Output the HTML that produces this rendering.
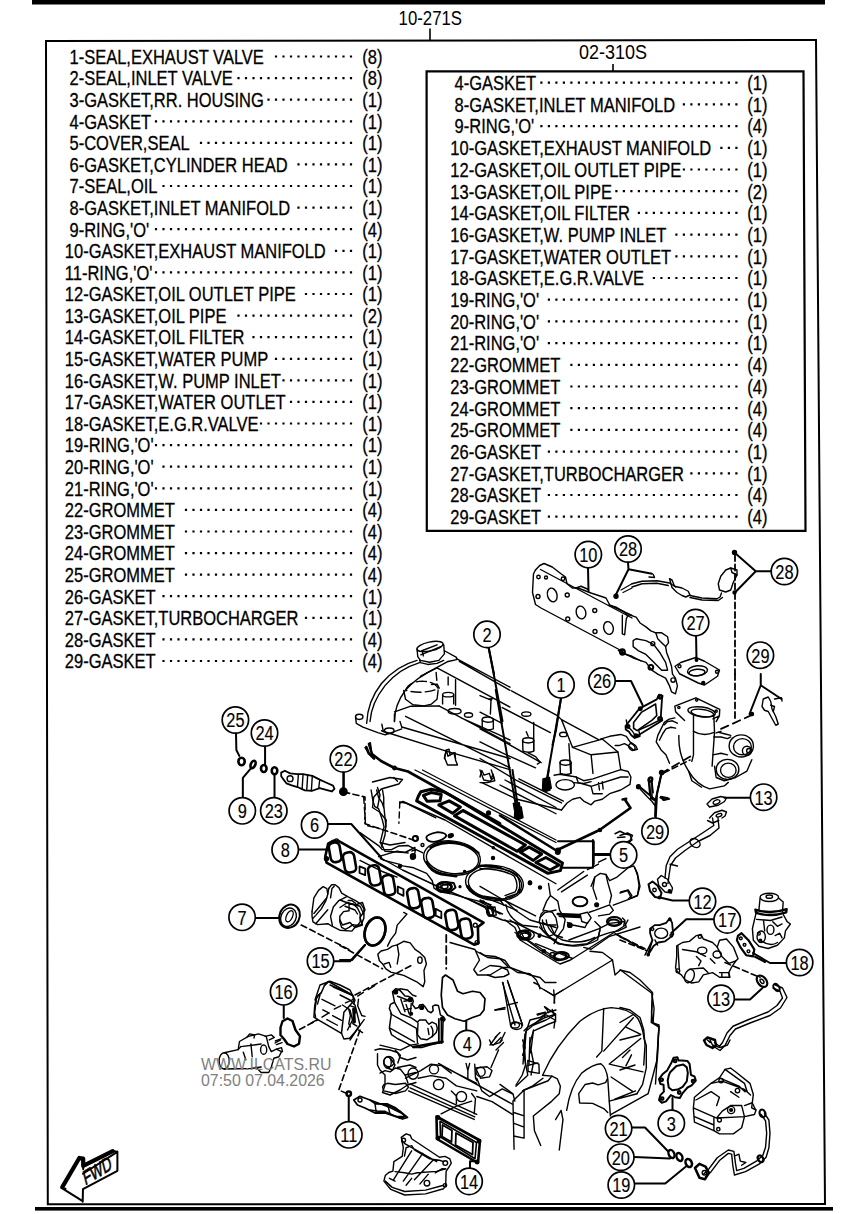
<!DOCTYPE html>
<html><head><meta charset="utf-8"><style>
html,body{margin:0;padding:0;background:#fff;width:864px;height:1214px;overflow:hidden}
svg{display:block}
text{font-family:"Liberation Sans",sans-serif;fill:#000}
.lt{stroke:#000;stroke-width:0.3px}
.cn{stroke:#000;stroke-width:0.15px}
.tile *{vector-effect:non-scaling-stroke}
</style></head><body>
<svg width="864" height="1214" viewBox="0 0 864 1214">
<rect x="0" y="0" width="864" height="1214" fill="#fff"/>
<rect x="32" y="0" width="793" height="4.5" fill="#000"/>
<rect x="35" y="1207" width="798" height="3.6" fill="#000"/>
<path d="M46 41 L816 40 L825 1204 L47.8 1204.3 Z" fill="none" stroke="#000" stroke-width="2"/>
<path d="M426.6 71.3 L803.5 71.3 L805.5 530.8 L426.8 530.8 Z" fill="none" stroke="#000" stroke-width="2.2"/>
<path d="M430 28.5V40.5M613 64V71" stroke="#000" stroke-width="1.6"/>
<text transform="translate(398.6,25) scale(0.84,1)" font-size="20">10-271S</text>
<text transform="translate(579,59) scale(0.9,1)" font-size="20">02-310S</text>
<text transform="translate(69.50,63.80) scale(0.825,1)" font-size="20.0" class="lt">1-SEAL,EXHAUST VALVE</text>
<path d="M349.9 55.4h2.2v2.2h-2.2zM342.4 55.4h2.2v2.2h-2.2zM334.9 55.4h2.2v2.2h-2.2zM327.4 55.4h2.2v2.2h-2.2zM319.9 55.4h2.2v2.2h-2.2zM312.4 55.4h2.2v2.2h-2.2zM304.9 55.4h2.2v2.2h-2.2zM297.4 55.4h2.2v2.2h-2.2zM289.9 55.4h2.2v2.2h-2.2zM282.4 55.4h2.2v2.2h-2.2zM274.9 55.4h2.2v2.2h-2.2z" fill="#000"/>
<text transform="translate(362.30,63.80) scale(0.825,1)" font-size="20.0" class="lt">(8)</text>
<text transform="translate(69.50,85.39) scale(0.825,1)" font-size="20.0" class="lt">2-SEAL,INLET VALVE</text>
<path d="M349.9 77.0h2.2v2.2h-2.2zM342.4 77.0h2.2v2.2h-2.2zM334.9 77.0h2.2v2.2h-2.2zM327.4 77.0h2.2v2.2h-2.2zM319.9 77.0h2.2v2.2h-2.2zM312.4 77.0h2.2v2.2h-2.2zM304.9 77.0h2.2v2.2h-2.2zM297.4 77.0h2.2v2.2h-2.2zM289.9 77.0h2.2v2.2h-2.2zM282.4 77.0h2.2v2.2h-2.2zM274.9 77.0h2.2v2.2h-2.2zM267.4 77.0h2.2v2.2h-2.2zM259.9 77.0h2.2v2.2h-2.2zM252.4 77.0h2.2v2.2h-2.2zM244.9 77.0h2.2v2.2h-2.2zM237.4 77.0h2.2v2.2h-2.2z" fill="#000"/>
<text transform="translate(362.30,85.39) scale(0.825,1)" font-size="20.0" class="lt">(8)</text>
<text transform="translate(69.50,106.98) scale(0.825,1)" font-size="20.0" class="lt">3-GASKET,RR. HOUSING</text>
<path d="M349.9 98.6h2.2v2.2h-2.2zM342.4 98.6h2.2v2.2h-2.2zM334.9 98.6h2.2v2.2h-2.2zM327.4 98.6h2.2v2.2h-2.2zM319.9 98.6h2.2v2.2h-2.2zM312.4 98.6h2.2v2.2h-2.2zM304.9 98.6h2.2v2.2h-2.2zM297.4 98.6h2.2v2.2h-2.2zM289.9 98.6h2.2v2.2h-2.2zM282.4 98.6h2.2v2.2h-2.2zM274.9 98.6h2.2v2.2h-2.2zM267.4 98.6h2.2v2.2h-2.2z" fill="#000"/>
<text transform="translate(362.30,106.98) scale(0.825,1)" font-size="20.0" class="lt">(1)</text>
<text transform="translate(69.50,128.57) scale(0.825,1)" font-size="20.0" class="lt">4-GASKET</text>
<path d="M349.9 120.2h2.2v2.2h-2.2zM342.4 120.2h2.2v2.2h-2.2zM334.9 120.2h2.2v2.2h-2.2zM327.4 120.2h2.2v2.2h-2.2zM319.9 120.2h2.2v2.2h-2.2zM312.4 120.2h2.2v2.2h-2.2zM304.9 120.2h2.2v2.2h-2.2zM297.4 120.2h2.2v2.2h-2.2zM289.9 120.2h2.2v2.2h-2.2zM282.4 120.2h2.2v2.2h-2.2zM274.9 120.2h2.2v2.2h-2.2zM267.4 120.2h2.2v2.2h-2.2zM259.9 120.2h2.2v2.2h-2.2zM252.4 120.2h2.2v2.2h-2.2zM244.9 120.2h2.2v2.2h-2.2zM237.4 120.2h2.2v2.2h-2.2zM229.9 120.2h2.2v2.2h-2.2zM222.4 120.2h2.2v2.2h-2.2zM214.9 120.2h2.2v2.2h-2.2zM207.4 120.2h2.2v2.2h-2.2zM199.9 120.2h2.2v2.2h-2.2zM192.4 120.2h2.2v2.2h-2.2zM184.9 120.2h2.2v2.2h-2.2zM177.4 120.2h2.2v2.2h-2.2zM169.9 120.2h2.2v2.2h-2.2zM162.4 120.2h2.2v2.2h-2.2zM154.9 120.2h2.2v2.2h-2.2z" fill="#000"/>
<text transform="translate(362.30,128.57) scale(0.825,1)" font-size="20.0" class="lt">(1)</text>
<text transform="translate(69.50,150.16) scale(0.825,1)" font-size="20.0" class="lt">5-COVER,SEAL</text>
<path d="M349.9 141.8h2.2v2.2h-2.2zM342.4 141.8h2.2v2.2h-2.2zM334.9 141.8h2.2v2.2h-2.2zM327.4 141.8h2.2v2.2h-2.2zM319.9 141.8h2.2v2.2h-2.2zM312.4 141.8h2.2v2.2h-2.2zM304.9 141.8h2.2v2.2h-2.2zM297.4 141.8h2.2v2.2h-2.2zM289.9 141.8h2.2v2.2h-2.2zM282.4 141.8h2.2v2.2h-2.2zM274.9 141.8h2.2v2.2h-2.2zM267.4 141.8h2.2v2.2h-2.2zM259.9 141.8h2.2v2.2h-2.2zM252.4 141.8h2.2v2.2h-2.2zM244.9 141.8h2.2v2.2h-2.2zM237.4 141.8h2.2v2.2h-2.2zM229.9 141.8h2.2v2.2h-2.2zM222.4 141.8h2.2v2.2h-2.2zM214.9 141.8h2.2v2.2h-2.2zM207.4 141.8h2.2v2.2h-2.2zM199.9 141.8h2.2v2.2h-2.2z" fill="#000"/>
<text transform="translate(362.30,150.16) scale(0.825,1)" font-size="20.0" class="lt">(1)</text>
<text transform="translate(69.50,171.75) scale(0.825,1)" font-size="20.0" class="lt">6-GASKET,CYLINDER HEAD</text>
<path d="M349.9 163.3h2.2v2.2h-2.2zM342.4 163.3h2.2v2.2h-2.2zM334.9 163.3h2.2v2.2h-2.2zM327.4 163.3h2.2v2.2h-2.2zM319.9 163.3h2.2v2.2h-2.2zM312.4 163.3h2.2v2.2h-2.2zM304.9 163.3h2.2v2.2h-2.2zM297.4 163.3h2.2v2.2h-2.2z" fill="#000"/>
<text transform="translate(362.30,171.75) scale(0.825,1)" font-size="20.0" class="lt">(1)</text>
<text transform="translate(69.50,193.34) scale(0.825,1)" font-size="20.0" class="lt">7-SEAL,OIL</text>
<path d="M349.9 184.9h2.2v2.2h-2.2zM342.4 184.9h2.2v2.2h-2.2zM334.9 184.9h2.2v2.2h-2.2zM327.4 184.9h2.2v2.2h-2.2zM319.9 184.9h2.2v2.2h-2.2zM312.4 184.9h2.2v2.2h-2.2zM304.9 184.9h2.2v2.2h-2.2zM297.4 184.9h2.2v2.2h-2.2zM289.9 184.9h2.2v2.2h-2.2zM282.4 184.9h2.2v2.2h-2.2zM274.9 184.9h2.2v2.2h-2.2zM267.4 184.9h2.2v2.2h-2.2zM259.9 184.9h2.2v2.2h-2.2zM252.4 184.9h2.2v2.2h-2.2zM244.9 184.9h2.2v2.2h-2.2zM237.4 184.9h2.2v2.2h-2.2zM229.9 184.9h2.2v2.2h-2.2zM222.4 184.9h2.2v2.2h-2.2zM214.9 184.9h2.2v2.2h-2.2zM207.4 184.9h2.2v2.2h-2.2zM199.9 184.9h2.2v2.2h-2.2zM192.4 184.9h2.2v2.2h-2.2zM184.9 184.9h2.2v2.2h-2.2zM177.4 184.9h2.2v2.2h-2.2zM169.9 184.9h2.2v2.2h-2.2zM162.4 184.9h2.2v2.2h-2.2z" fill="#000"/>
<text transform="translate(362.30,193.34) scale(0.825,1)" font-size="20.0" class="lt">(1)</text>
<text transform="translate(69.50,214.93) scale(0.825,1)" font-size="20.0" class="lt">8-GASKET,INLET MANIFOLD</text>
<path d="M349.9 206.5h2.2v2.2h-2.2zM342.4 206.5h2.2v2.2h-2.2zM334.9 206.5h2.2v2.2h-2.2zM327.4 206.5h2.2v2.2h-2.2zM319.9 206.5h2.2v2.2h-2.2zM312.4 206.5h2.2v2.2h-2.2zM304.9 206.5h2.2v2.2h-2.2zM297.4 206.5h2.2v2.2h-2.2z" fill="#000"/>
<text transform="translate(362.30,214.93) scale(0.825,1)" font-size="20.0" class="lt">(1)</text>
<text transform="translate(69.50,236.52) scale(0.825,1)" font-size="20.0" class="lt">9-RING,'O'</text>
<path d="M349.9 228.1h2.2v2.2h-2.2zM342.4 228.1h2.2v2.2h-2.2zM334.9 228.1h2.2v2.2h-2.2zM327.4 228.1h2.2v2.2h-2.2zM319.9 228.1h2.2v2.2h-2.2zM312.4 228.1h2.2v2.2h-2.2zM304.9 228.1h2.2v2.2h-2.2zM297.4 228.1h2.2v2.2h-2.2zM289.9 228.1h2.2v2.2h-2.2zM282.4 228.1h2.2v2.2h-2.2zM274.9 228.1h2.2v2.2h-2.2zM267.4 228.1h2.2v2.2h-2.2zM259.9 228.1h2.2v2.2h-2.2zM252.4 228.1h2.2v2.2h-2.2zM244.9 228.1h2.2v2.2h-2.2zM237.4 228.1h2.2v2.2h-2.2zM229.9 228.1h2.2v2.2h-2.2zM222.4 228.1h2.2v2.2h-2.2zM214.9 228.1h2.2v2.2h-2.2zM207.4 228.1h2.2v2.2h-2.2zM199.9 228.1h2.2v2.2h-2.2zM192.4 228.1h2.2v2.2h-2.2zM184.9 228.1h2.2v2.2h-2.2zM177.4 228.1h2.2v2.2h-2.2zM169.9 228.1h2.2v2.2h-2.2zM162.4 228.1h2.2v2.2h-2.2zM154.9 228.1h2.2v2.2h-2.2z" fill="#000"/>
<text transform="translate(362.30,236.52) scale(0.825,1)" font-size="20.0" class="lt">(4)</text>
<text transform="translate(64.80,258.11) scale(0.825,1)" font-size="20.0" class="lt">10-GASKET,EXHAUST MANIFOLD</text>
<path d="M349.9 249.7h2.2v2.2h-2.2zM342.4 249.7h2.2v2.2h-2.2zM334.9 249.7h2.2v2.2h-2.2z" fill="#000"/>
<text transform="translate(362.30,258.11) scale(0.825,1)" font-size="20.0" class="lt">(1)</text>
<text transform="translate(64.80,279.70) scale(0.825,1)" font-size="20.0" class="lt">11-RING,'O'</text>
<path d="M349.9 271.3h2.2v2.2h-2.2zM342.4 271.3h2.2v2.2h-2.2zM334.9 271.3h2.2v2.2h-2.2zM327.4 271.3h2.2v2.2h-2.2zM319.9 271.3h2.2v2.2h-2.2zM312.4 271.3h2.2v2.2h-2.2zM304.9 271.3h2.2v2.2h-2.2zM297.4 271.3h2.2v2.2h-2.2zM289.9 271.3h2.2v2.2h-2.2zM282.4 271.3h2.2v2.2h-2.2zM274.9 271.3h2.2v2.2h-2.2zM267.4 271.3h2.2v2.2h-2.2zM259.9 271.3h2.2v2.2h-2.2zM252.4 271.3h2.2v2.2h-2.2zM244.9 271.3h2.2v2.2h-2.2zM237.4 271.3h2.2v2.2h-2.2zM229.9 271.3h2.2v2.2h-2.2zM222.4 271.3h2.2v2.2h-2.2zM214.9 271.3h2.2v2.2h-2.2zM207.4 271.3h2.2v2.2h-2.2zM199.9 271.3h2.2v2.2h-2.2zM192.4 271.3h2.2v2.2h-2.2zM184.9 271.3h2.2v2.2h-2.2zM177.4 271.3h2.2v2.2h-2.2zM169.9 271.3h2.2v2.2h-2.2zM162.4 271.3h2.2v2.2h-2.2zM154.9 271.3h2.2v2.2h-2.2z" fill="#000"/>
<text transform="translate(362.30,279.70) scale(0.825,1)" font-size="20.0" class="lt">(1)</text>
<text transform="translate(64.80,301.29) scale(0.825,1)" font-size="20.0" class="lt">12-GASKET,OIL OUTLET PIPE</text>
<path d="M349.9 292.9h2.2v2.2h-2.2zM342.4 292.9h2.2v2.2h-2.2zM334.9 292.9h2.2v2.2h-2.2zM327.4 292.9h2.2v2.2h-2.2zM319.9 292.9h2.2v2.2h-2.2zM312.4 292.9h2.2v2.2h-2.2zM304.9 292.9h2.2v2.2h-2.2z" fill="#000"/>
<text transform="translate(362.30,301.29) scale(0.825,1)" font-size="20.0" class="lt">(1)</text>
<text transform="translate(64.80,322.88) scale(0.825,1)" font-size="20.0" class="lt">13-GASKET,OIL PIPE</text>
<path d="M349.9 314.5h2.2v2.2h-2.2zM342.4 314.5h2.2v2.2h-2.2zM334.9 314.5h2.2v2.2h-2.2zM327.4 314.5h2.2v2.2h-2.2zM319.9 314.5h2.2v2.2h-2.2zM312.4 314.5h2.2v2.2h-2.2zM304.9 314.5h2.2v2.2h-2.2zM297.4 314.5h2.2v2.2h-2.2zM289.9 314.5h2.2v2.2h-2.2zM282.4 314.5h2.2v2.2h-2.2zM274.9 314.5h2.2v2.2h-2.2zM267.4 314.5h2.2v2.2h-2.2zM259.9 314.5h2.2v2.2h-2.2zM252.4 314.5h2.2v2.2h-2.2zM244.9 314.5h2.2v2.2h-2.2zM237.4 314.5h2.2v2.2h-2.2z" fill="#000"/>
<text transform="translate(362.30,322.88) scale(0.825,1)" font-size="20.0" class="lt">(2)</text>
<text transform="translate(64.80,344.47) scale(0.825,1)" font-size="20.0" class="lt">14-GASKET,OIL FILTER</text>
<path d="M349.9 336.1h2.2v2.2h-2.2zM342.4 336.1h2.2v2.2h-2.2zM334.9 336.1h2.2v2.2h-2.2zM327.4 336.1h2.2v2.2h-2.2zM319.9 336.1h2.2v2.2h-2.2zM312.4 336.1h2.2v2.2h-2.2zM304.9 336.1h2.2v2.2h-2.2zM297.4 336.1h2.2v2.2h-2.2zM289.9 336.1h2.2v2.2h-2.2zM282.4 336.1h2.2v2.2h-2.2zM274.9 336.1h2.2v2.2h-2.2zM267.4 336.1h2.2v2.2h-2.2zM259.9 336.1h2.2v2.2h-2.2zM252.4 336.1h2.2v2.2h-2.2z" fill="#000"/>
<text transform="translate(362.30,344.47) scale(0.825,1)" font-size="20.0" class="lt">(1)</text>
<text transform="translate(64.80,366.06) scale(0.825,1)" font-size="20.0" class="lt">15-GASKET,WATER PUMP</text>
<path d="M349.9 357.7h2.2v2.2h-2.2zM342.4 357.7h2.2v2.2h-2.2zM334.9 357.7h2.2v2.2h-2.2zM327.4 357.7h2.2v2.2h-2.2zM319.9 357.7h2.2v2.2h-2.2zM312.4 357.7h2.2v2.2h-2.2zM304.9 357.7h2.2v2.2h-2.2zM297.4 357.7h2.2v2.2h-2.2zM289.9 357.7h2.2v2.2h-2.2zM282.4 357.7h2.2v2.2h-2.2zM274.9 357.7h2.2v2.2h-2.2z" fill="#000"/>
<text transform="translate(362.30,366.06) scale(0.825,1)" font-size="20.0" class="lt">(1)</text>
<text transform="translate(64.80,387.65) scale(0.825,1)" font-size="20.0" class="lt">16-GASKET,W. PUMP INLET</text>
<path d="M349.9 379.2h2.2v2.2h-2.2zM342.4 379.2h2.2v2.2h-2.2zM334.9 379.2h2.2v2.2h-2.2zM327.4 379.2h2.2v2.2h-2.2zM319.9 379.2h2.2v2.2h-2.2zM312.4 379.2h2.2v2.2h-2.2zM304.9 379.2h2.2v2.2h-2.2zM297.4 379.2h2.2v2.2h-2.2zM289.9 379.2h2.2v2.2h-2.2zM282.4 379.2h2.2v2.2h-2.2z" fill="#000"/>
<text transform="translate(362.30,387.65) scale(0.825,1)" font-size="20.0" class="lt">(1)</text>
<text transform="translate(64.80,409.24) scale(0.825,1)" font-size="20.0" class="lt">17-GASKET,WATER OUTLET</text>
<path d="M349.9 400.8h2.2v2.2h-2.2zM342.4 400.8h2.2v2.2h-2.2zM334.9 400.8h2.2v2.2h-2.2zM327.4 400.8h2.2v2.2h-2.2zM319.9 400.8h2.2v2.2h-2.2zM312.4 400.8h2.2v2.2h-2.2zM304.9 400.8h2.2v2.2h-2.2zM297.4 400.8h2.2v2.2h-2.2zM289.9 400.8h2.2v2.2h-2.2z" fill="#000"/>
<text transform="translate(362.30,409.24) scale(0.825,1)" font-size="20.0" class="lt">(1)</text>
<text transform="translate(64.80,430.83) scale(0.825,1)" font-size="20.0" class="lt">18-GASKET,E.G.R.VALVE</text>
<path d="M349.9 422.4h2.2v2.2h-2.2zM342.4 422.4h2.2v2.2h-2.2zM334.9 422.4h2.2v2.2h-2.2zM327.4 422.4h2.2v2.2h-2.2zM319.9 422.4h2.2v2.2h-2.2zM312.4 422.4h2.2v2.2h-2.2zM304.9 422.4h2.2v2.2h-2.2zM297.4 422.4h2.2v2.2h-2.2zM289.9 422.4h2.2v2.2h-2.2zM282.4 422.4h2.2v2.2h-2.2zM274.9 422.4h2.2v2.2h-2.2zM267.4 422.4h2.2v2.2h-2.2zM259.9 422.4h2.2v2.2h-2.2z" fill="#000"/>
<text transform="translate(362.30,430.83) scale(0.825,1)" font-size="20.0" class="lt">(1)</text>
<text transform="translate(64.80,452.42) scale(0.825,1)" font-size="20.0" class="lt">19-RING,'O'</text>
<path d="M349.9 444.0h2.2v2.2h-2.2zM342.4 444.0h2.2v2.2h-2.2zM334.9 444.0h2.2v2.2h-2.2zM327.4 444.0h2.2v2.2h-2.2zM319.9 444.0h2.2v2.2h-2.2zM312.4 444.0h2.2v2.2h-2.2zM304.9 444.0h2.2v2.2h-2.2zM297.4 444.0h2.2v2.2h-2.2zM289.9 444.0h2.2v2.2h-2.2zM282.4 444.0h2.2v2.2h-2.2zM274.9 444.0h2.2v2.2h-2.2zM267.4 444.0h2.2v2.2h-2.2zM259.9 444.0h2.2v2.2h-2.2zM252.4 444.0h2.2v2.2h-2.2zM244.9 444.0h2.2v2.2h-2.2zM237.4 444.0h2.2v2.2h-2.2zM229.9 444.0h2.2v2.2h-2.2zM222.4 444.0h2.2v2.2h-2.2zM214.9 444.0h2.2v2.2h-2.2zM207.4 444.0h2.2v2.2h-2.2zM199.9 444.0h2.2v2.2h-2.2zM192.4 444.0h2.2v2.2h-2.2zM184.9 444.0h2.2v2.2h-2.2zM177.4 444.0h2.2v2.2h-2.2zM169.9 444.0h2.2v2.2h-2.2zM162.4 444.0h2.2v2.2h-2.2zM154.9 444.0h2.2v2.2h-2.2z" fill="#000"/>
<text transform="translate(362.30,452.42) scale(0.825,1)" font-size="20.0" class="lt">(1)</text>
<text transform="translate(64.80,474.01) scale(0.825,1)" font-size="20.0" class="lt">20-RING,'O'</text>
<path d="M349.9 465.6h2.2v2.2h-2.2zM342.4 465.6h2.2v2.2h-2.2zM334.9 465.6h2.2v2.2h-2.2zM327.4 465.6h2.2v2.2h-2.2zM319.9 465.6h2.2v2.2h-2.2zM312.4 465.6h2.2v2.2h-2.2zM304.9 465.6h2.2v2.2h-2.2zM297.4 465.6h2.2v2.2h-2.2zM289.9 465.6h2.2v2.2h-2.2zM282.4 465.6h2.2v2.2h-2.2zM274.9 465.6h2.2v2.2h-2.2zM267.4 465.6h2.2v2.2h-2.2zM259.9 465.6h2.2v2.2h-2.2zM252.4 465.6h2.2v2.2h-2.2zM244.9 465.6h2.2v2.2h-2.2zM237.4 465.6h2.2v2.2h-2.2zM229.9 465.6h2.2v2.2h-2.2zM222.4 465.6h2.2v2.2h-2.2zM214.9 465.6h2.2v2.2h-2.2zM207.4 465.6h2.2v2.2h-2.2zM199.9 465.6h2.2v2.2h-2.2zM192.4 465.6h2.2v2.2h-2.2zM184.9 465.6h2.2v2.2h-2.2zM177.4 465.6h2.2v2.2h-2.2zM169.9 465.6h2.2v2.2h-2.2zM162.4 465.6h2.2v2.2h-2.2z" fill="#000"/>
<text transform="translate(362.30,474.01) scale(0.825,1)" font-size="20.0" class="lt">(1)</text>
<text transform="translate(64.80,495.60) scale(0.825,1)" font-size="20.0" class="lt">21-RING,'O'</text>
<path d="M349.9 487.2h2.2v2.2h-2.2zM342.4 487.2h2.2v2.2h-2.2zM334.9 487.2h2.2v2.2h-2.2zM327.4 487.2h2.2v2.2h-2.2zM319.9 487.2h2.2v2.2h-2.2zM312.4 487.2h2.2v2.2h-2.2zM304.9 487.2h2.2v2.2h-2.2zM297.4 487.2h2.2v2.2h-2.2zM289.9 487.2h2.2v2.2h-2.2zM282.4 487.2h2.2v2.2h-2.2zM274.9 487.2h2.2v2.2h-2.2zM267.4 487.2h2.2v2.2h-2.2zM259.9 487.2h2.2v2.2h-2.2zM252.4 487.2h2.2v2.2h-2.2zM244.9 487.2h2.2v2.2h-2.2zM237.4 487.2h2.2v2.2h-2.2zM229.9 487.2h2.2v2.2h-2.2zM222.4 487.2h2.2v2.2h-2.2zM214.9 487.2h2.2v2.2h-2.2zM207.4 487.2h2.2v2.2h-2.2zM199.9 487.2h2.2v2.2h-2.2zM192.4 487.2h2.2v2.2h-2.2zM184.9 487.2h2.2v2.2h-2.2zM177.4 487.2h2.2v2.2h-2.2zM169.9 487.2h2.2v2.2h-2.2zM162.4 487.2h2.2v2.2h-2.2zM154.9 487.2h2.2v2.2h-2.2z" fill="#000"/>
<text transform="translate(362.30,495.60) scale(0.825,1)" font-size="20.0" class="lt">(1)</text>
<text transform="translate(64.80,517.19) scale(0.825,1)" font-size="20.0" class="lt">22-GROMMET</text>
<path d="M349.9 508.8h2.2v2.2h-2.2zM342.4 508.8h2.2v2.2h-2.2zM334.9 508.8h2.2v2.2h-2.2zM327.4 508.8h2.2v2.2h-2.2zM319.9 508.8h2.2v2.2h-2.2zM312.4 508.8h2.2v2.2h-2.2zM304.9 508.8h2.2v2.2h-2.2zM297.4 508.8h2.2v2.2h-2.2zM289.9 508.8h2.2v2.2h-2.2zM282.4 508.8h2.2v2.2h-2.2zM274.9 508.8h2.2v2.2h-2.2zM267.4 508.8h2.2v2.2h-2.2zM259.9 508.8h2.2v2.2h-2.2zM252.4 508.8h2.2v2.2h-2.2zM244.9 508.8h2.2v2.2h-2.2zM237.4 508.8h2.2v2.2h-2.2zM229.9 508.8h2.2v2.2h-2.2zM222.4 508.8h2.2v2.2h-2.2zM214.9 508.8h2.2v2.2h-2.2zM207.4 508.8h2.2v2.2h-2.2zM199.9 508.8h2.2v2.2h-2.2zM192.4 508.8h2.2v2.2h-2.2zM184.9 508.8h2.2v2.2h-2.2z" fill="#000"/>
<text transform="translate(362.30,517.19) scale(0.825,1)" font-size="20.0" class="lt">(4)</text>
<text transform="translate(64.80,538.78) scale(0.825,1)" font-size="20.0" class="lt">23-GROMMET</text>
<path d="M349.9 530.4h2.2v2.2h-2.2zM342.4 530.4h2.2v2.2h-2.2zM334.9 530.4h2.2v2.2h-2.2zM327.4 530.4h2.2v2.2h-2.2zM319.9 530.4h2.2v2.2h-2.2zM312.4 530.4h2.2v2.2h-2.2zM304.9 530.4h2.2v2.2h-2.2zM297.4 530.4h2.2v2.2h-2.2zM289.9 530.4h2.2v2.2h-2.2zM282.4 530.4h2.2v2.2h-2.2zM274.9 530.4h2.2v2.2h-2.2zM267.4 530.4h2.2v2.2h-2.2zM259.9 530.4h2.2v2.2h-2.2zM252.4 530.4h2.2v2.2h-2.2zM244.9 530.4h2.2v2.2h-2.2zM237.4 530.4h2.2v2.2h-2.2zM229.9 530.4h2.2v2.2h-2.2zM222.4 530.4h2.2v2.2h-2.2zM214.9 530.4h2.2v2.2h-2.2zM207.4 530.4h2.2v2.2h-2.2zM199.9 530.4h2.2v2.2h-2.2zM192.4 530.4h2.2v2.2h-2.2zM184.9 530.4h2.2v2.2h-2.2z" fill="#000"/>
<text transform="translate(362.30,538.78) scale(0.825,1)" font-size="20.0" class="lt">(4)</text>
<text transform="translate(64.80,560.37) scale(0.825,1)" font-size="20.0" class="lt">24-GROMMET</text>
<path d="M349.9 552.0h2.2v2.2h-2.2zM342.4 552.0h2.2v2.2h-2.2zM334.9 552.0h2.2v2.2h-2.2zM327.4 552.0h2.2v2.2h-2.2zM319.9 552.0h2.2v2.2h-2.2zM312.4 552.0h2.2v2.2h-2.2zM304.9 552.0h2.2v2.2h-2.2zM297.4 552.0h2.2v2.2h-2.2zM289.9 552.0h2.2v2.2h-2.2zM282.4 552.0h2.2v2.2h-2.2zM274.9 552.0h2.2v2.2h-2.2zM267.4 552.0h2.2v2.2h-2.2zM259.9 552.0h2.2v2.2h-2.2zM252.4 552.0h2.2v2.2h-2.2zM244.9 552.0h2.2v2.2h-2.2zM237.4 552.0h2.2v2.2h-2.2zM229.9 552.0h2.2v2.2h-2.2zM222.4 552.0h2.2v2.2h-2.2zM214.9 552.0h2.2v2.2h-2.2zM207.4 552.0h2.2v2.2h-2.2zM199.9 552.0h2.2v2.2h-2.2zM192.4 552.0h2.2v2.2h-2.2zM184.9 552.0h2.2v2.2h-2.2z" fill="#000"/>
<text transform="translate(362.30,560.37) scale(0.825,1)" font-size="20.0" class="lt">(4)</text>
<text transform="translate(64.80,581.96) scale(0.825,1)" font-size="20.0" class="lt">25-GROMMET</text>
<path d="M349.9 573.6h2.2v2.2h-2.2zM342.4 573.6h2.2v2.2h-2.2zM334.9 573.6h2.2v2.2h-2.2zM327.4 573.6h2.2v2.2h-2.2zM319.9 573.6h2.2v2.2h-2.2zM312.4 573.6h2.2v2.2h-2.2zM304.9 573.6h2.2v2.2h-2.2zM297.4 573.6h2.2v2.2h-2.2zM289.9 573.6h2.2v2.2h-2.2zM282.4 573.6h2.2v2.2h-2.2zM274.9 573.6h2.2v2.2h-2.2zM267.4 573.6h2.2v2.2h-2.2zM259.9 573.6h2.2v2.2h-2.2zM252.4 573.6h2.2v2.2h-2.2zM244.9 573.6h2.2v2.2h-2.2zM237.4 573.6h2.2v2.2h-2.2zM229.9 573.6h2.2v2.2h-2.2zM222.4 573.6h2.2v2.2h-2.2zM214.9 573.6h2.2v2.2h-2.2zM207.4 573.6h2.2v2.2h-2.2zM199.9 573.6h2.2v2.2h-2.2zM192.4 573.6h2.2v2.2h-2.2zM184.9 573.6h2.2v2.2h-2.2z" fill="#000"/>
<text transform="translate(362.30,581.96) scale(0.825,1)" font-size="20.0" class="lt">(4)</text>
<text transform="translate(64.80,603.55) scale(0.825,1)" font-size="20.0" class="lt">26-GASKET</text>
<path d="M349.9 595.1h2.2v2.2h-2.2zM342.4 595.1h2.2v2.2h-2.2zM334.9 595.1h2.2v2.2h-2.2zM327.4 595.1h2.2v2.2h-2.2zM319.9 595.1h2.2v2.2h-2.2zM312.4 595.1h2.2v2.2h-2.2zM304.9 595.1h2.2v2.2h-2.2zM297.4 595.1h2.2v2.2h-2.2zM289.9 595.1h2.2v2.2h-2.2zM282.4 595.1h2.2v2.2h-2.2zM274.9 595.1h2.2v2.2h-2.2zM267.4 595.1h2.2v2.2h-2.2zM259.9 595.1h2.2v2.2h-2.2zM252.4 595.1h2.2v2.2h-2.2zM244.9 595.1h2.2v2.2h-2.2zM237.4 595.1h2.2v2.2h-2.2zM229.9 595.1h2.2v2.2h-2.2zM222.4 595.1h2.2v2.2h-2.2zM214.9 595.1h2.2v2.2h-2.2zM207.4 595.1h2.2v2.2h-2.2zM199.9 595.1h2.2v2.2h-2.2zM192.4 595.1h2.2v2.2h-2.2zM184.9 595.1h2.2v2.2h-2.2zM177.4 595.1h2.2v2.2h-2.2zM169.9 595.1h2.2v2.2h-2.2zM162.4 595.1h2.2v2.2h-2.2z" fill="#000"/>
<text transform="translate(362.30,603.55) scale(0.825,1)" font-size="20.0" class="lt">(1)</text>
<text transform="translate(64.80,625.14) scale(0.825,1)" font-size="20.0" class="lt">27-GASKET,TURBOCHARGER</text>
<path d="M349.9 616.7h2.2v2.2h-2.2zM342.4 616.7h2.2v2.2h-2.2zM334.9 616.7h2.2v2.2h-2.2zM327.4 616.7h2.2v2.2h-2.2zM319.9 616.7h2.2v2.2h-2.2zM312.4 616.7h2.2v2.2h-2.2zM304.9 616.7h2.2v2.2h-2.2z" fill="#000"/>
<text transform="translate(362.30,625.14) scale(0.825,1)" font-size="20.0" class="lt">(1)</text>
<text transform="translate(64.80,646.73) scale(0.825,1)" font-size="20.0" class="lt">28-GASKET</text>
<path d="M349.9 638.3h2.2v2.2h-2.2zM342.4 638.3h2.2v2.2h-2.2zM334.9 638.3h2.2v2.2h-2.2zM327.4 638.3h2.2v2.2h-2.2zM319.9 638.3h2.2v2.2h-2.2zM312.4 638.3h2.2v2.2h-2.2zM304.9 638.3h2.2v2.2h-2.2zM297.4 638.3h2.2v2.2h-2.2zM289.9 638.3h2.2v2.2h-2.2zM282.4 638.3h2.2v2.2h-2.2zM274.9 638.3h2.2v2.2h-2.2zM267.4 638.3h2.2v2.2h-2.2zM259.9 638.3h2.2v2.2h-2.2zM252.4 638.3h2.2v2.2h-2.2zM244.9 638.3h2.2v2.2h-2.2zM237.4 638.3h2.2v2.2h-2.2zM229.9 638.3h2.2v2.2h-2.2zM222.4 638.3h2.2v2.2h-2.2zM214.9 638.3h2.2v2.2h-2.2zM207.4 638.3h2.2v2.2h-2.2zM199.9 638.3h2.2v2.2h-2.2zM192.4 638.3h2.2v2.2h-2.2zM184.9 638.3h2.2v2.2h-2.2zM177.4 638.3h2.2v2.2h-2.2zM169.9 638.3h2.2v2.2h-2.2zM162.4 638.3h2.2v2.2h-2.2z" fill="#000"/>
<text transform="translate(362.30,646.73) scale(0.825,1)" font-size="20.0" class="lt">(4)</text>
<text transform="translate(64.80,668.32) scale(0.825,1)" font-size="20.0" class="lt">29-GASKET</text>
<path d="M349.9 659.9h2.2v2.2h-2.2zM342.4 659.9h2.2v2.2h-2.2zM334.9 659.9h2.2v2.2h-2.2zM327.4 659.9h2.2v2.2h-2.2zM319.9 659.9h2.2v2.2h-2.2zM312.4 659.9h2.2v2.2h-2.2zM304.9 659.9h2.2v2.2h-2.2zM297.4 659.9h2.2v2.2h-2.2zM289.9 659.9h2.2v2.2h-2.2zM282.4 659.9h2.2v2.2h-2.2zM274.9 659.9h2.2v2.2h-2.2zM267.4 659.9h2.2v2.2h-2.2zM259.9 659.9h2.2v2.2h-2.2zM252.4 659.9h2.2v2.2h-2.2zM244.9 659.9h2.2v2.2h-2.2zM237.4 659.9h2.2v2.2h-2.2zM229.9 659.9h2.2v2.2h-2.2zM222.4 659.9h2.2v2.2h-2.2zM214.9 659.9h2.2v2.2h-2.2zM207.4 659.9h2.2v2.2h-2.2zM199.9 659.9h2.2v2.2h-2.2zM192.4 659.9h2.2v2.2h-2.2zM184.9 659.9h2.2v2.2h-2.2zM177.4 659.9h2.2v2.2h-2.2zM169.9 659.9h2.2v2.2h-2.2zM162.4 659.9h2.2v2.2h-2.2z" fill="#000"/>
<text transform="translate(362.30,668.32) scale(0.825,1)" font-size="20.0" class="lt">(4)</text>
<text transform="translate(454.60,90.00) scale(0.825,1)" font-size="20.0" class="lt">4-GASKET</text>
<path d="M735.3 81.6h2.2v2.2h-2.2zM727.8 81.6h2.2v2.2h-2.2zM720.3 81.6h2.2v2.2h-2.2zM712.8 81.6h2.2v2.2h-2.2zM705.3 81.6h2.2v2.2h-2.2zM697.8 81.6h2.2v2.2h-2.2zM690.3 81.6h2.2v2.2h-2.2zM682.8 81.6h2.2v2.2h-2.2zM675.3 81.6h2.2v2.2h-2.2zM667.8 81.6h2.2v2.2h-2.2zM660.3 81.6h2.2v2.2h-2.2zM652.8 81.6h2.2v2.2h-2.2zM645.3 81.6h2.2v2.2h-2.2zM637.8 81.6h2.2v2.2h-2.2zM630.3 81.6h2.2v2.2h-2.2zM622.8 81.6h2.2v2.2h-2.2zM615.3 81.6h2.2v2.2h-2.2zM607.8 81.6h2.2v2.2h-2.2zM600.3 81.6h2.2v2.2h-2.2zM592.8 81.6h2.2v2.2h-2.2zM585.3 81.6h2.2v2.2h-2.2zM577.8 81.6h2.2v2.2h-2.2zM570.3 81.6h2.2v2.2h-2.2zM562.8 81.6h2.2v2.2h-2.2zM555.3 81.6h2.2v2.2h-2.2zM547.8 81.6h2.2v2.2h-2.2zM540.3 81.6h2.2v2.2h-2.2z" fill="#000"/>
<text transform="translate(747.30,90.00) scale(0.825,1)" font-size="20.0" class="lt">(1)</text>
<text transform="translate(454.60,111.70) scale(0.825,1)" font-size="20.0" class="lt">8-GASKET,INLET MANIFOLD</text>
<path d="M735.3 103.3h2.2v2.2h-2.2zM727.8 103.3h2.2v2.2h-2.2zM720.3 103.3h2.2v2.2h-2.2zM712.8 103.3h2.2v2.2h-2.2zM705.3 103.3h2.2v2.2h-2.2zM697.8 103.3h2.2v2.2h-2.2zM690.3 103.3h2.2v2.2h-2.2zM682.8 103.3h2.2v2.2h-2.2z" fill="#000"/>
<text transform="translate(747.30,111.70) scale(0.825,1)" font-size="20.0" class="lt">(1)</text>
<text transform="translate(454.60,133.40) scale(0.825,1)" font-size="20.0" class="lt">9-RING,'O'</text>
<path d="M735.3 125.0h2.2v2.2h-2.2zM727.8 125.0h2.2v2.2h-2.2zM720.3 125.0h2.2v2.2h-2.2zM712.8 125.0h2.2v2.2h-2.2zM705.3 125.0h2.2v2.2h-2.2zM697.8 125.0h2.2v2.2h-2.2zM690.3 125.0h2.2v2.2h-2.2zM682.8 125.0h2.2v2.2h-2.2zM675.3 125.0h2.2v2.2h-2.2zM667.8 125.0h2.2v2.2h-2.2zM660.3 125.0h2.2v2.2h-2.2zM652.8 125.0h2.2v2.2h-2.2zM645.3 125.0h2.2v2.2h-2.2zM637.8 125.0h2.2v2.2h-2.2zM630.3 125.0h2.2v2.2h-2.2zM622.8 125.0h2.2v2.2h-2.2zM615.3 125.0h2.2v2.2h-2.2zM607.8 125.0h2.2v2.2h-2.2zM600.3 125.0h2.2v2.2h-2.2zM592.8 125.0h2.2v2.2h-2.2zM585.3 125.0h2.2v2.2h-2.2zM577.8 125.0h2.2v2.2h-2.2zM570.3 125.0h2.2v2.2h-2.2zM562.8 125.0h2.2v2.2h-2.2zM555.3 125.0h2.2v2.2h-2.2zM547.8 125.0h2.2v2.2h-2.2zM540.3 125.0h2.2v2.2h-2.2z" fill="#000"/>
<text transform="translate(747.30,133.40) scale(0.825,1)" font-size="20.0" class="lt">(4)</text>
<text transform="translate(450.30,155.10) scale(0.825,1)" font-size="20.0" class="lt">10-GASKET,EXHAUST MANIFOLD</text>
<path d="M735.3 146.7h2.2v2.2h-2.2zM727.8 146.7h2.2v2.2h-2.2zM720.3 146.7h2.2v2.2h-2.2z" fill="#000"/>
<text transform="translate(747.30,155.10) scale(0.825,1)" font-size="20.0" class="lt">(1)</text>
<text transform="translate(450.30,176.80) scale(0.825,1)" font-size="20.0" class="lt">12-GASKET,OIL OUTLET PIPE</text>
<path d="M735.3 168.4h2.2v2.2h-2.2zM727.8 168.4h2.2v2.2h-2.2zM720.3 168.4h2.2v2.2h-2.2zM712.8 168.4h2.2v2.2h-2.2zM705.3 168.4h2.2v2.2h-2.2zM697.8 168.4h2.2v2.2h-2.2zM690.3 168.4h2.2v2.2h-2.2zM682.8 168.4h2.2v2.2h-2.2z" fill="#000"/>
<text transform="translate(747.30,176.80) scale(0.825,1)" font-size="20.0" class="lt">(1)</text>
<text transform="translate(450.30,198.50) scale(0.825,1)" font-size="20.0" class="lt">13-GASKET,OIL PIPE</text>
<path d="M735.3 190.1h2.2v2.2h-2.2zM727.8 190.1h2.2v2.2h-2.2zM720.3 190.1h2.2v2.2h-2.2zM712.8 190.1h2.2v2.2h-2.2zM705.3 190.1h2.2v2.2h-2.2zM697.8 190.1h2.2v2.2h-2.2zM690.3 190.1h2.2v2.2h-2.2zM682.8 190.1h2.2v2.2h-2.2zM675.3 190.1h2.2v2.2h-2.2zM667.8 190.1h2.2v2.2h-2.2zM660.3 190.1h2.2v2.2h-2.2zM652.8 190.1h2.2v2.2h-2.2zM645.3 190.1h2.2v2.2h-2.2zM637.8 190.1h2.2v2.2h-2.2zM630.3 190.1h2.2v2.2h-2.2zM622.8 190.1h2.2v2.2h-2.2zM615.3 190.1h2.2v2.2h-2.2z" fill="#000"/>
<text transform="translate(747.30,198.50) scale(0.825,1)" font-size="20.0" class="lt">(2)</text>
<text transform="translate(450.30,220.20) scale(0.825,1)" font-size="20.0" class="lt">14-GASKET,OIL FILTER</text>
<path d="M735.3 211.8h2.2v2.2h-2.2zM727.8 211.8h2.2v2.2h-2.2zM720.3 211.8h2.2v2.2h-2.2zM712.8 211.8h2.2v2.2h-2.2zM705.3 211.8h2.2v2.2h-2.2zM697.8 211.8h2.2v2.2h-2.2zM690.3 211.8h2.2v2.2h-2.2zM682.8 211.8h2.2v2.2h-2.2zM675.3 211.8h2.2v2.2h-2.2zM667.8 211.8h2.2v2.2h-2.2zM660.3 211.8h2.2v2.2h-2.2zM652.8 211.8h2.2v2.2h-2.2zM645.3 211.8h2.2v2.2h-2.2zM637.8 211.8h2.2v2.2h-2.2z" fill="#000"/>
<text transform="translate(747.30,220.20) scale(0.825,1)" font-size="20.0" class="lt">(1)</text>
<text transform="translate(450.30,241.90) scale(0.825,1)" font-size="20.0" class="lt">16-GASKET,W. PUMP INLET</text>
<path d="M735.3 233.5h2.2v2.2h-2.2zM727.8 233.5h2.2v2.2h-2.2zM720.3 233.5h2.2v2.2h-2.2zM712.8 233.5h2.2v2.2h-2.2zM705.3 233.5h2.2v2.2h-2.2zM697.8 233.5h2.2v2.2h-2.2zM690.3 233.5h2.2v2.2h-2.2zM682.8 233.5h2.2v2.2h-2.2zM675.3 233.5h2.2v2.2h-2.2z" fill="#000"/>
<text transform="translate(747.30,241.90) scale(0.825,1)" font-size="20.0" class="lt">(1)</text>
<text transform="translate(450.30,263.60) scale(0.825,1)" font-size="20.0" class="lt">17-GASKET,WATER OUTLET</text>
<path d="M735.3 255.2h2.2v2.2h-2.2zM727.8 255.2h2.2v2.2h-2.2zM720.3 255.2h2.2v2.2h-2.2zM712.8 255.2h2.2v2.2h-2.2zM705.3 255.2h2.2v2.2h-2.2zM697.8 255.2h2.2v2.2h-2.2zM690.3 255.2h2.2v2.2h-2.2zM682.8 255.2h2.2v2.2h-2.2zM675.3 255.2h2.2v2.2h-2.2z" fill="#000"/>
<text transform="translate(747.30,263.60) scale(0.825,1)" font-size="20.0" class="lt">(1)</text>
<text transform="translate(450.30,285.30) scale(0.825,1)" font-size="20.0" class="lt">18-GASKET,E.G.R.VALVE</text>
<path d="M735.3 276.9h2.2v2.2h-2.2zM727.8 276.9h2.2v2.2h-2.2zM720.3 276.9h2.2v2.2h-2.2zM712.8 276.9h2.2v2.2h-2.2zM705.3 276.9h2.2v2.2h-2.2zM697.8 276.9h2.2v2.2h-2.2zM690.3 276.9h2.2v2.2h-2.2zM682.8 276.9h2.2v2.2h-2.2zM675.3 276.9h2.2v2.2h-2.2zM667.8 276.9h2.2v2.2h-2.2zM660.3 276.9h2.2v2.2h-2.2zM652.8 276.9h2.2v2.2h-2.2z" fill="#000"/>
<text transform="translate(747.30,285.30) scale(0.825,1)" font-size="20.0" class="lt">(1)</text>
<text transform="translate(450.30,307.00) scale(0.825,1)" font-size="20.0" class="lt">19-RING,'O'</text>
<path d="M735.3 298.6h2.2v2.2h-2.2zM727.8 298.6h2.2v2.2h-2.2zM720.3 298.6h2.2v2.2h-2.2zM712.8 298.6h2.2v2.2h-2.2zM705.3 298.6h2.2v2.2h-2.2zM697.8 298.6h2.2v2.2h-2.2zM690.3 298.6h2.2v2.2h-2.2zM682.8 298.6h2.2v2.2h-2.2zM675.3 298.6h2.2v2.2h-2.2zM667.8 298.6h2.2v2.2h-2.2zM660.3 298.6h2.2v2.2h-2.2zM652.8 298.6h2.2v2.2h-2.2zM645.3 298.6h2.2v2.2h-2.2zM637.8 298.6h2.2v2.2h-2.2zM630.3 298.6h2.2v2.2h-2.2zM622.8 298.6h2.2v2.2h-2.2zM615.3 298.6h2.2v2.2h-2.2zM607.8 298.6h2.2v2.2h-2.2zM600.3 298.6h2.2v2.2h-2.2zM592.8 298.6h2.2v2.2h-2.2zM585.3 298.6h2.2v2.2h-2.2zM577.8 298.6h2.2v2.2h-2.2zM570.3 298.6h2.2v2.2h-2.2zM562.8 298.6h2.2v2.2h-2.2zM555.3 298.6h2.2v2.2h-2.2zM547.8 298.6h2.2v2.2h-2.2z" fill="#000"/>
<text transform="translate(747.30,307.00) scale(0.825,1)" font-size="20.0" class="lt">(1)</text>
<text transform="translate(450.30,328.70) scale(0.825,1)" font-size="20.0" class="lt">20-RING,'O'</text>
<path d="M735.3 320.3h2.2v2.2h-2.2zM727.8 320.3h2.2v2.2h-2.2zM720.3 320.3h2.2v2.2h-2.2zM712.8 320.3h2.2v2.2h-2.2zM705.3 320.3h2.2v2.2h-2.2zM697.8 320.3h2.2v2.2h-2.2zM690.3 320.3h2.2v2.2h-2.2zM682.8 320.3h2.2v2.2h-2.2zM675.3 320.3h2.2v2.2h-2.2zM667.8 320.3h2.2v2.2h-2.2zM660.3 320.3h2.2v2.2h-2.2zM652.8 320.3h2.2v2.2h-2.2zM645.3 320.3h2.2v2.2h-2.2zM637.8 320.3h2.2v2.2h-2.2zM630.3 320.3h2.2v2.2h-2.2zM622.8 320.3h2.2v2.2h-2.2zM615.3 320.3h2.2v2.2h-2.2zM607.8 320.3h2.2v2.2h-2.2zM600.3 320.3h2.2v2.2h-2.2zM592.8 320.3h2.2v2.2h-2.2zM585.3 320.3h2.2v2.2h-2.2zM577.8 320.3h2.2v2.2h-2.2zM570.3 320.3h2.2v2.2h-2.2zM562.8 320.3h2.2v2.2h-2.2zM555.3 320.3h2.2v2.2h-2.2zM547.8 320.3h2.2v2.2h-2.2z" fill="#000"/>
<text transform="translate(747.30,328.70) scale(0.825,1)" font-size="20.0" class="lt">(1)</text>
<text transform="translate(450.30,350.40) scale(0.825,1)" font-size="20.0" class="lt">21-RING,'O'</text>
<path d="M735.3 342.0h2.2v2.2h-2.2zM727.8 342.0h2.2v2.2h-2.2zM720.3 342.0h2.2v2.2h-2.2zM712.8 342.0h2.2v2.2h-2.2zM705.3 342.0h2.2v2.2h-2.2zM697.8 342.0h2.2v2.2h-2.2zM690.3 342.0h2.2v2.2h-2.2zM682.8 342.0h2.2v2.2h-2.2zM675.3 342.0h2.2v2.2h-2.2zM667.8 342.0h2.2v2.2h-2.2zM660.3 342.0h2.2v2.2h-2.2zM652.8 342.0h2.2v2.2h-2.2zM645.3 342.0h2.2v2.2h-2.2zM637.8 342.0h2.2v2.2h-2.2zM630.3 342.0h2.2v2.2h-2.2zM622.8 342.0h2.2v2.2h-2.2zM615.3 342.0h2.2v2.2h-2.2zM607.8 342.0h2.2v2.2h-2.2zM600.3 342.0h2.2v2.2h-2.2zM592.8 342.0h2.2v2.2h-2.2zM585.3 342.0h2.2v2.2h-2.2zM577.8 342.0h2.2v2.2h-2.2zM570.3 342.0h2.2v2.2h-2.2zM562.8 342.0h2.2v2.2h-2.2zM555.3 342.0h2.2v2.2h-2.2zM547.8 342.0h2.2v2.2h-2.2z" fill="#000"/>
<text transform="translate(747.30,350.40) scale(0.825,1)" font-size="20.0" class="lt">(1)</text>
<text transform="translate(450.30,372.10) scale(0.825,1)" font-size="20.0" class="lt">22-GROMMET</text>
<path d="M735.3 363.7h2.2v2.2h-2.2zM727.8 363.7h2.2v2.2h-2.2zM720.3 363.7h2.2v2.2h-2.2zM712.8 363.7h2.2v2.2h-2.2zM705.3 363.7h2.2v2.2h-2.2zM697.8 363.7h2.2v2.2h-2.2zM690.3 363.7h2.2v2.2h-2.2zM682.8 363.7h2.2v2.2h-2.2zM675.3 363.7h2.2v2.2h-2.2zM667.8 363.7h2.2v2.2h-2.2zM660.3 363.7h2.2v2.2h-2.2zM652.8 363.7h2.2v2.2h-2.2zM645.3 363.7h2.2v2.2h-2.2zM637.8 363.7h2.2v2.2h-2.2zM630.3 363.7h2.2v2.2h-2.2zM622.8 363.7h2.2v2.2h-2.2zM615.3 363.7h2.2v2.2h-2.2zM607.8 363.7h2.2v2.2h-2.2zM600.3 363.7h2.2v2.2h-2.2zM592.8 363.7h2.2v2.2h-2.2zM585.3 363.7h2.2v2.2h-2.2zM577.8 363.7h2.2v2.2h-2.2zM570.3 363.7h2.2v2.2h-2.2z" fill="#000"/>
<text transform="translate(747.30,372.10) scale(0.825,1)" font-size="20.0" class="lt">(4)</text>
<text transform="translate(450.30,393.80) scale(0.825,1)" font-size="20.0" class="lt">23-GROMMET</text>
<path d="M735.3 385.4h2.2v2.2h-2.2zM727.8 385.4h2.2v2.2h-2.2zM720.3 385.4h2.2v2.2h-2.2zM712.8 385.4h2.2v2.2h-2.2zM705.3 385.4h2.2v2.2h-2.2zM697.8 385.4h2.2v2.2h-2.2zM690.3 385.4h2.2v2.2h-2.2zM682.8 385.4h2.2v2.2h-2.2zM675.3 385.4h2.2v2.2h-2.2zM667.8 385.4h2.2v2.2h-2.2zM660.3 385.4h2.2v2.2h-2.2zM652.8 385.4h2.2v2.2h-2.2zM645.3 385.4h2.2v2.2h-2.2zM637.8 385.4h2.2v2.2h-2.2zM630.3 385.4h2.2v2.2h-2.2zM622.8 385.4h2.2v2.2h-2.2zM615.3 385.4h2.2v2.2h-2.2zM607.8 385.4h2.2v2.2h-2.2zM600.3 385.4h2.2v2.2h-2.2zM592.8 385.4h2.2v2.2h-2.2zM585.3 385.4h2.2v2.2h-2.2zM577.8 385.4h2.2v2.2h-2.2zM570.3 385.4h2.2v2.2h-2.2z" fill="#000"/>
<text transform="translate(747.30,393.80) scale(0.825,1)" font-size="20.0" class="lt">(4)</text>
<text transform="translate(450.30,415.50) scale(0.825,1)" font-size="20.0" class="lt">24-GROMMET</text>
<path d="M735.3 407.1h2.2v2.2h-2.2zM727.8 407.1h2.2v2.2h-2.2zM720.3 407.1h2.2v2.2h-2.2zM712.8 407.1h2.2v2.2h-2.2zM705.3 407.1h2.2v2.2h-2.2zM697.8 407.1h2.2v2.2h-2.2zM690.3 407.1h2.2v2.2h-2.2zM682.8 407.1h2.2v2.2h-2.2zM675.3 407.1h2.2v2.2h-2.2zM667.8 407.1h2.2v2.2h-2.2zM660.3 407.1h2.2v2.2h-2.2zM652.8 407.1h2.2v2.2h-2.2zM645.3 407.1h2.2v2.2h-2.2zM637.8 407.1h2.2v2.2h-2.2zM630.3 407.1h2.2v2.2h-2.2zM622.8 407.1h2.2v2.2h-2.2zM615.3 407.1h2.2v2.2h-2.2zM607.8 407.1h2.2v2.2h-2.2zM600.3 407.1h2.2v2.2h-2.2zM592.8 407.1h2.2v2.2h-2.2zM585.3 407.1h2.2v2.2h-2.2zM577.8 407.1h2.2v2.2h-2.2zM570.3 407.1h2.2v2.2h-2.2z" fill="#000"/>
<text transform="translate(747.30,415.50) scale(0.825,1)" font-size="20.0" class="lt">(4)</text>
<text transform="translate(450.30,437.20) scale(0.825,1)" font-size="20.0" class="lt">25-GROMMET</text>
<path d="M735.3 428.8h2.2v2.2h-2.2zM727.8 428.8h2.2v2.2h-2.2zM720.3 428.8h2.2v2.2h-2.2zM712.8 428.8h2.2v2.2h-2.2zM705.3 428.8h2.2v2.2h-2.2zM697.8 428.8h2.2v2.2h-2.2zM690.3 428.8h2.2v2.2h-2.2zM682.8 428.8h2.2v2.2h-2.2zM675.3 428.8h2.2v2.2h-2.2zM667.8 428.8h2.2v2.2h-2.2zM660.3 428.8h2.2v2.2h-2.2zM652.8 428.8h2.2v2.2h-2.2zM645.3 428.8h2.2v2.2h-2.2zM637.8 428.8h2.2v2.2h-2.2zM630.3 428.8h2.2v2.2h-2.2zM622.8 428.8h2.2v2.2h-2.2zM615.3 428.8h2.2v2.2h-2.2zM607.8 428.8h2.2v2.2h-2.2zM600.3 428.8h2.2v2.2h-2.2zM592.8 428.8h2.2v2.2h-2.2zM585.3 428.8h2.2v2.2h-2.2zM577.8 428.8h2.2v2.2h-2.2zM570.3 428.8h2.2v2.2h-2.2z" fill="#000"/>
<text transform="translate(747.30,437.20) scale(0.825,1)" font-size="20.0" class="lt">(4)</text>
<text transform="translate(450.30,458.90) scale(0.825,1)" font-size="20.0" class="lt">26-GASKET</text>
<path d="M735.3 450.5h2.2v2.2h-2.2zM727.8 450.5h2.2v2.2h-2.2zM720.3 450.5h2.2v2.2h-2.2zM712.8 450.5h2.2v2.2h-2.2zM705.3 450.5h2.2v2.2h-2.2zM697.8 450.5h2.2v2.2h-2.2zM690.3 450.5h2.2v2.2h-2.2zM682.8 450.5h2.2v2.2h-2.2zM675.3 450.5h2.2v2.2h-2.2zM667.8 450.5h2.2v2.2h-2.2zM660.3 450.5h2.2v2.2h-2.2zM652.8 450.5h2.2v2.2h-2.2zM645.3 450.5h2.2v2.2h-2.2zM637.8 450.5h2.2v2.2h-2.2zM630.3 450.5h2.2v2.2h-2.2zM622.8 450.5h2.2v2.2h-2.2zM615.3 450.5h2.2v2.2h-2.2zM607.8 450.5h2.2v2.2h-2.2zM600.3 450.5h2.2v2.2h-2.2zM592.8 450.5h2.2v2.2h-2.2zM585.3 450.5h2.2v2.2h-2.2zM577.8 450.5h2.2v2.2h-2.2zM570.3 450.5h2.2v2.2h-2.2zM562.8 450.5h2.2v2.2h-2.2zM555.3 450.5h2.2v2.2h-2.2zM547.8 450.5h2.2v2.2h-2.2z" fill="#000"/>
<text transform="translate(747.30,458.90) scale(0.825,1)" font-size="20.0" class="lt">(1)</text>
<text transform="translate(450.30,480.60) scale(0.825,1)" font-size="20.0" class="lt">27-GASKET,TURBOCHARGER</text>
<path d="M735.3 472.2h2.2v2.2h-2.2zM727.8 472.2h2.2v2.2h-2.2zM720.3 472.2h2.2v2.2h-2.2zM712.8 472.2h2.2v2.2h-2.2zM705.3 472.2h2.2v2.2h-2.2zM697.8 472.2h2.2v2.2h-2.2zM690.3 472.2h2.2v2.2h-2.2z" fill="#000"/>
<text transform="translate(747.30,480.60) scale(0.825,1)" font-size="20.0" class="lt">(1)</text>
<text transform="translate(450.30,502.30) scale(0.825,1)" font-size="20.0" class="lt">28-GASKET</text>
<path d="M735.3 493.9h2.2v2.2h-2.2zM727.8 493.9h2.2v2.2h-2.2zM720.3 493.9h2.2v2.2h-2.2zM712.8 493.9h2.2v2.2h-2.2zM705.3 493.9h2.2v2.2h-2.2zM697.8 493.9h2.2v2.2h-2.2zM690.3 493.9h2.2v2.2h-2.2zM682.8 493.9h2.2v2.2h-2.2zM675.3 493.9h2.2v2.2h-2.2zM667.8 493.9h2.2v2.2h-2.2zM660.3 493.9h2.2v2.2h-2.2zM652.8 493.9h2.2v2.2h-2.2zM645.3 493.9h2.2v2.2h-2.2zM637.8 493.9h2.2v2.2h-2.2zM630.3 493.9h2.2v2.2h-2.2zM622.8 493.9h2.2v2.2h-2.2zM615.3 493.9h2.2v2.2h-2.2zM607.8 493.9h2.2v2.2h-2.2zM600.3 493.9h2.2v2.2h-2.2zM592.8 493.9h2.2v2.2h-2.2zM585.3 493.9h2.2v2.2h-2.2zM577.8 493.9h2.2v2.2h-2.2zM570.3 493.9h2.2v2.2h-2.2zM562.8 493.9h2.2v2.2h-2.2zM555.3 493.9h2.2v2.2h-2.2zM547.8 493.9h2.2v2.2h-2.2z" fill="#000"/>
<text transform="translate(747.30,502.30) scale(0.825,1)" font-size="20.0" class="lt">(4)</text>
<text transform="translate(450.30,524.00) scale(0.825,1)" font-size="20.0" class="lt">29-GASKET</text>
<path d="M735.3 515.6h2.2v2.2h-2.2zM727.8 515.6h2.2v2.2h-2.2zM720.3 515.6h2.2v2.2h-2.2zM712.8 515.6h2.2v2.2h-2.2zM705.3 515.6h2.2v2.2h-2.2zM697.8 515.6h2.2v2.2h-2.2zM690.3 515.6h2.2v2.2h-2.2zM682.8 515.6h2.2v2.2h-2.2zM675.3 515.6h2.2v2.2h-2.2zM667.8 515.6h2.2v2.2h-2.2zM660.3 515.6h2.2v2.2h-2.2zM652.8 515.6h2.2v2.2h-2.2zM645.3 515.6h2.2v2.2h-2.2zM637.8 515.6h2.2v2.2h-2.2zM630.3 515.6h2.2v2.2h-2.2zM622.8 515.6h2.2v2.2h-2.2zM615.3 515.6h2.2v2.2h-2.2zM607.8 515.6h2.2v2.2h-2.2zM600.3 515.6h2.2v2.2h-2.2zM592.8 515.6h2.2v2.2h-2.2zM585.3 515.6h2.2v2.2h-2.2zM577.8 515.6h2.2v2.2h-2.2zM570.3 515.6h2.2v2.2h-2.2zM562.8 515.6h2.2v2.2h-2.2zM555.3 515.6h2.2v2.2h-2.2zM547.8 515.6h2.2v2.2h-2.2z" fill="#000"/>
<text transform="translate(747.30,524.00) scale(0.825,1)" font-size="20.0" class="lt">(4)</text>
<g fill="none" stroke="#000" stroke-width="1.4" stroke-linecap="round" stroke-linejoin="round">
<g class="tile" transform="translate(0,0) scale(1.0)">
<path d="M615.5 681 L631 681 L642.6 705" stroke-width="2"/>
<path d="M561 698 L556 730" stroke-width="2"/>
<path d="M327.6 824 L340 824" stroke-width="2"/>
</g>
<g class="tile" transform="translate(200,860) scale(0.25)"><path d="M215 232 L320 232" stroke-width="2"/>
<ellipse cx="358" cy="225" rx="40" ry="48" transform="rotate(25 358 225)" stroke-width="2"/>
<ellipse cx="354" cy="229" rx="30" ry="38" transform="rotate(25 354 229)"/>
<ellipse cx="358" cy="225" rx="12" ry="24" transform="rotate(25 358 225)"/>
<path d="M405 260 L600 360" stroke-width="1.6" stroke-dasharray="6 3.5"/>

<ellipse cx="700" cy="286" rx="40" ry="57" transform="rotate(18 700 286)" stroke-width="2.4"/>
<path d="M538 405 L600 405 L660 340" stroke-width="2"/>

<path d="M460 560 L480 500 L520 485 L560 500 L600 520 L620 560 L615 576 M470 576 L480 540"/>
<path d="M520 500 L590 530"/>
<path d="M780 530 L800 515 L830 520 L850 540 L864 545 M790 545 L830 560"/>
</g>
<g class="tile" transform="translate(200,960) scale(0.2546473134708429)">
<ellipse cx="95" cy="396" rx="20" ry="32"/>
<path d="M95 364 L150 352 L160 340 M95 428 L200 426 L240 420"/>
<path d="M150 352 L155 320 L190 300 L230 290 L260 300 L270 340 L280 360 L300 350 L320 360 L310 380 L290 386 L280 420 L270 442 L240 442 L220 420"/>
<path d="M185 302 L195 290 L215 294 L212 306 M256 300 L280 294 L292 304 L272 314 M300 350 L320 344 L324 360"/>
<ellipse cx="250" cy="352" rx="12" ry="18"/>
<path d="M160 340 L240 330 M170 362 L180 392 M200 330 L205 380"/>
<path d="M296 318 L322 308 M300 332 L330 322" stroke-dasharray="6 4"/>
</g>
<g class="tile" transform="translate(200,990) scale(0.25)"><path d="M335 55 L335 112" stroke-width="2"/>
<path d="M322 150 L330 125 L350 114 L370 124 L382 160 L400 185 L396 215 L376 226 L350 216 L336 196 L322 180 Z" stroke-width="2.4"/>
<path d="M398 158 L470 120" stroke-width="1.6" stroke-dasharray="6 3.5"/>
<path d="M300 212 L330 196" stroke-width="1.4" stroke-dasharray="6 3.5"/>
<path d="M640 160 L555 400 L590 415" stroke-width="1.6" stroke-dasharray="6 3.5"/>
<circle cx="595" cy="415" r="9" stroke-width="2.4"/>
<path d="M595 425 L595 530" stroke-width="2"/>

<path d="M615 440 L640 425 L680 440 L702 455 L750 456 L780 470 L830 510 L810 516 L770 502 L740 492 L700 492 L660 472 L630 460 Z" stroke-width="1.8"/>
<circle cx="640" cy="440" r="8"/>
<path d="M700 455 L705 490 M750 456 L760 495"/>

<path d="M700 240 L720 235 L760 240 L790 250 L800 270 L830 280 L864 270"/>
<path d="M710 255 L710 300 L720 320 L740 340 L740 380 L730 410 L760 420 L800 400 L830 380 L864 370"/>
<path d="M760 270 L780 300 L770 320 L745 310 M790 310 L840 300 L864 310 M820 340 L864 330"/>
<ellipse cx="750" cy="290" rx="15" ry="22"/>
</g>
<g class="tile" transform="translate(216,700) scale(0.18518518518518517)"><path d="M108 180 L110 270 L126 302" stroke-width="2"/>
<ellipse cx="138" cy="332" rx="17" ry="20" stroke-width="2.6"/>
<ellipse cx="200" cy="348" rx="12" ry="21" transform="rotate(25 200 348)" stroke-width="2.6"/>
<path d="M145 530 L145 420 L186 372" stroke-width="2"/>
<ellipse cx="258" cy="370" rx="15" ry="19" stroke-width="2.6"/>
<path d="M265 250 L265 350" stroke-width="2"/>
<ellipse cx="316" cy="382" rx="15" ry="19" stroke-width="2.6"/>
<path d="M316 402 L316 532" stroke-width="2"/>

<path d="M352 392 L372 382 L400 396 L440 400 L470 400 L520 410 L560 430 L600 448 L632 462 L640 480 L625 494 L590 484 L560 476 L520 490 L480 488 L440 470 L405 460 L380 450 L365 430 L352 412 Z" stroke-width="1.8"/>
<path d="M445 402 L440 468 M470 402 L465 482 M495 405 L490 488 M520 410 L515 490 M560 432 L555 474"/>
<circle cx="400" cy="425" r="16"/>
<path d="M688 385 L688 480" stroke-width="2"/>
<circle cx="688" cy="495" r="20" fill="#000"/>
</g>
<g class="tile" transform="translate(296,836) scale(0.2175805047867711)"><path d="M8 62 L145 62" stroke-width="2"/>
<g stroke-width="2.6">
<path d="M148 35 L170 22 L195 22 L862 398 L836 418 L838 492 L820 500 L140 122 L135 92 Z"/>
<rect x="155" y="30" width="50" height="90" rx="20" transform="rotate(-10 180 75)"/>
<rect x="220" y="75" width="52" height="92" rx="20" transform="rotate(-10 246 121)"/>
<rect x="335" y="135" width="52" height="92" rx="20" transform="rotate(-10 361 181)"/>
<rect x="400" y="180" width="52" height="92" rx="20" transform="rotate(-10 426 226)"/>
<rect x="515" y="240" width="52" height="92" rx="20" transform="rotate(-10 541 286)"/>
<rect x="580" y="285" width="52" height="92" rx="20" transform="rotate(-10 606 331)"/>
<rect x="690" y="340" width="52" height="92" rx="20" transform="rotate(-10 716 386)"/>
<rect x="755" y="380" width="52" height="92" rx="20" transform="rotate(-10 781 426)"/>
</g>
<path d="M292 140 L318 150 L318 180 L292 170 Z M468 232 L494 245 L494 275 L468 262 Z M642 335 L668 348 L668 378 L642 366 Z" stroke-width="1.8"/>
<circle cx="186" cy="22" r="9"/><circle cx="140" cy="104" r="9" fill="#000"/><circle cx="824" cy="410" r="9"/><circle cx="832" cy="490" r="9"/>
</g>
<g class="tile" transform="translate(300,870) scale(0.09259259259259259)">
<path d="M130 450 L150 300 L200 220 L250 180 L290 200 L300 260 L280 330 L230 420 L170 490 L140 520"/>
<path d="M310 200 L340 160 L380 160 L420 190 L450 250 L520 290 L600 330 L660 370 L690 420 L690 520 L660 590 L610 600 L560 660 L430 650 L350 610 L300 580 L190 590 L140 560 L130 500 L130 450"/>
<path d="M300 260 L310 200 M330 300 L345 200 L370 175"/>
<path d="M500 290 L420 330 L360 400 L330 500 L350 600"/>
<path d="M430 500 L470 450 L530 440 L530 370 L580 370 L620 410 L650 470 L650 560 L620 600 L570 590 L530 620 L490 640 L450 620 L430 560 Z"/>
<path d="M170 580 L300 430 M150 470 L290 300 M520 330 L560 330 L600 360"/>
</g>
<g class="tile" transform="translate(300,870) scale(0.16204829039053636)">
<path d="M480 520 L500 500 L540 490 L570 470 L600 462 L640 440 L680 450 L710 490 L740 510 L770 540 L780 580 L765 620 L770 690 L760 720 L720 690 L680 670 L640 650 L600 640 L560 630 L530 610 L510 580 L490 560 Z"/>
<ellipse cx="740" cy="556" rx="14" ry="20"/>
<path d="M640 262 L660 272 L600 340 L590 390 L560 430 L540 470"/>
<path d="M520 580 L550 570 L560 600 M600 460 L610 520 L600 580"/>
</g>
<g class="tile" transform="translate(305,975) scale(0.08103727714748785)">
<path d="M290 80 L590 250 L600 320 L480 460 L450 720 L190 570 L110 520 L120 380 L140 280 L200 220 L240 130 Z" stroke-width="1.5"/>
<path d="M240 130 L260 110 L290 80 M200 220 L160 250 L140 300 L130 380 L120 460 L130 520"/>
<path d="M350 150 L580 250 M500 345 L590 305 M360 420 L440 380 M210 520 L290 470 M270 550 L400 620 M340 500 L450 560 M210 300 L370 380 M220 430 L300 470"/>
<path d="M560 380 L620 400 L630 450 L600 500 L590 600 L640 630 M540 420 L560 500 L540 600 L560 640"/>
<path d="M600 420 L610 580" stroke-width="3"/>
<path d="M450 720 L480 790 L550 780 L620 700 L730 550 M660 300 L650 380 L700 500 L740 510"/>
<path d="M650 260 L720 215 M780 180 L860 130 M80 590 L150 550 M660 680 L710 710"/>
</g>
<g class="tile" transform="translate(340,630) scale(0.25)">
<path d="M418 510 L425 480 L432 505 L460 490 L462 520 L470 540 L430 540 Z"/>

<path d="M116 456 L128 496 L164 524 L218 552 L272 566 L412 644 L640 774" stroke-width="2.6"/>
<circle cx="218" cy="552" r="7" fill="#000"/>
<path d="M118 452 L122 470 M100 470 L110 485"/>

<path d="M595 70 L650 365" stroke-width="2"/>
<path d="M864 400 L850 460" stroke-width="2"/>
</g>
<g class="tile" transform="translate(340,770) scale(0.25)"><path d="M300 0 L380 40 L864 290 M330 0 L864 280" stroke-width="1.3"/>
<path d="M560 0 L575 40 L600 45 L615 30 L605 0"/>

<path d="M240 132 L252 126 L340 165 L420 200 L864 455"/>
<path d="M160 350 L250 400 L400 470 L520 520 L650 576"/>
<ellipse cx="448" cy="352" rx="114" ry="68" transform="rotate(6 448 352)"/>
<ellipse cx="450" cy="354" rx="105" ry="60" transform="rotate(6 450 354)"/>
<ellipse cx="618" cy="452" rx="116" ry="70" transform="rotate(6 618 452)"/>
<ellipse cx="620" cy="454" rx="107" ry="62" transform="rotate(6 620 454)"/>

<circle cx="300" cy="274" r="9"/><circle cx="440" cy="264" r="7" fill="#000"/><circle cx="292" cy="345" r="10"/>
<circle cx="240" cy="384" r="6" fill="#000"/><circle cx="612" cy="352" r="6" fill="#000"/><circle cx="760" cy="452" r="7"/>
<circle cx="800" cy="470" r="6" fill="#000"/><circle cx="330" cy="300" r="6"/>
<path d="M390 460 L420 448 L455 452 L462 470 L440 488 L405 488 L390 475 Z" stroke-width="2"/>
<ellipse cx="425" cy="468" rx="18" ry="10"/>
<path d="M560 520 L600 540 L610 570 M590 545 L640 576"/>

<path d="M15 88 L100 108 L100 215 L300 282" stroke-width="1.6" stroke-dasharray="6 3.5"/>

<path d="M130 48 L200 30 L250 38 L235 56 L165 76 L135 108 L130 150 L158 168 L185 200 L180 260 L168 300 L178 322"/>
<path d="M150 70 L160 100 L150 150 M170 80 L175 110 L175 150 M215 30 L230 45"/>
<path d="M160 290 L200 300 L260 290 M180 325 L260 330 L300 310"/>

<path d="M-50 216 L45 216 L165 350" stroke-width="2"/>
<path d="M0 520 L40 535 L80 545 L95 576 M20 545 L60 560 L70 576"/>

<path d="M700 150 L725 148 L732 190 L712 198 L698 190 Z" fill="#000"/>
<path d="M690 0 L712 150" stroke-width="2"/>
<path d="M812 60 L835 55 L840 80 L820 86 L810 80 Z" fill="#000"/>
<path d="M835 0 L826 55" stroke-width="2"/>
<path d="M660 40 L864 150 M640 60 L864 175"/>
<circle cx="15" cy="88" r="10" fill="#000"/>
<path d="M15 0 L15 80" stroke-width="2"/>
</g>
<g class="tile" transform="translate(340,900) scale(0.25)">
<ellipse cx="140" cy="126" rx="40" ry="58" transform="rotate(18 140 126)" stroke-width="2.4"/>
<path d="M100 180 L48 240 L0 240" stroke-width="2"/>
<path d="M0 182 L170 275" stroke-width="1.6" stroke-dasharray="6 3.5"/>
<path d="M60 380 L285 262" stroke-width="1.6" stroke-dasharray="6 3.5"/>
<path d="M425 140 L425 275" stroke-width="1.8" stroke-dasharray="7 4"/>

<path d="M410 310 L422 300 L452 320 L470 365 L492 375 L530 365 L560 370 L580 395 L576 440 L560 460 L530 470 L496 485 L460 475 L430 460 L410 430 L405 380 Z" stroke-width="1.7"/>
<path d="M505 485 L505 520" stroke-width="2"/>

<path d="M440 170 L475 180 L540 198 L558 240 L535 278 L550 300 L600 300 L650 270 L680 270"/>
<path d="M545 205 L590 230 L640 235 L670 265"/>
<path d="M680 270 L720 285 L760 300 L800 310 L820 330 L864 330"/>
<path d="M620 440 L660 430 M650 330 L700 500 M672 330 L730 500"/>
<ellipse cx="700" cy="500" rx="18" ry="12"/>
<path d="M740 540 L760 480 L800 470 L830 450 L864 440"/>

<path d="M520 0 L580 30 L600 60 L650 80 L700 90 L740 110 L800 140 L864 160"/>
<path d="M660 0 L700 40 L760 80 L864 110 M640 0 L655 20"/>
<path d="M590 30 L620 28 L625 60 L600 62 Z"/>
<ellipse cx="742" cy="140" rx="35" ry="20"/><ellipse cx="738" cy="142" rx="18" ry="10"/>
<path d="M700 130 L760 170 L800 200 L864 240 M800 200 L820 210"/>
<path d="M800 70 L820 50 L864 40 M810 90 L830 100 L864 100"/>
<circle cx="850" cy="220" r="10"/>

<path d="M0 380 L40 400 L60 420 L70 460 L80 500 L60 530 L40 560 M10 420 L40 440 L50 480 L30 520"/>
<path d="M0 30 L30 10 L60 20 L90 10 L100 40 L80 70 L90 100 L60 110 L40 90 L10 100 L0 80"/>
</g>
<g class="tile" transform="translate(350,640) scale(0.18518518518518517)">
<ellipse cx="432" cy="35" rx="72" ry="24" transform="rotate(-12 432 35)"/>
<path d="M362 50 L366 90 L380 110 L430 120 L480 110 L510 75 L506 25"/>
<path d="M382 80 L490 36 M388 58 L470 26 M390 56 L396 86"/>
<path d="M376 106 L380 122 L420 132 L470 126 L506 110"/>

<path d="M510 58 L575 94 L576 106 L530 116 L470 148 L380 196"/>
<path d="M575 100 L864 255 M590 116 L864 272"/>
<path d="M470 150 L864 362"/>

<path d="M362 110 Q250 140 170 235 Q95 330 90 450"/>
<path d="M376 122 Q265 155 190 245 Q115 340 108 440"/>
<path d="M470 150 Q360 200 300 270 Q240 350 240 440"/>
<ellipse cx="50" cy="415" rx="20" ry="14"/>
<path d="M30 414 L34 450 L70 470 L150 500 L190 512 L280 480"/>
<path d="M170 490 L520 600 L864 700 M280 470 L864 640 M300 412 L720 620 L864 690"/>
<ellipse cx="212" cy="490" rx="26" ry="15"/>
<path d="M172 455 L180 495 M270 440 L280 472 M240 400 L240 440 M240 388 L325 358 L480 356"/>

<path d="M300 270 Q320 225 390 222 Q460 225 476 262 Q440 280 380 282 Q320 280 300 270" stroke-dasharray="10 4"/>
<path d="M290 272 L300 320 L340 350 L400 356 L440 346 L470 320 L476 270"/>
<path d="M440 240 L470 238 L482 260"/>
<path d="M465 175 L470 232 M530 200 L530 270" stroke-dasharray="8 5"/>

<ellipse cx="530" cy="295" rx="30" ry="12"/>
<path d="M500 295 L500 345 M560 295 L560 345"/>
<path d="M570 215 L570 352"/>
<ellipse cx="565" cy="385" rx="35" ry="15"/><ellipse cx="640" cy="405" rx="22" ry="12"/>
<path d="M480 356 L864 560 M600 420 L800 510 L864 540"/>
<path d="M510 640 L520 595 L535 590 L540 620 L560 610 L570 640"/>

<path d="M88 578 L100 610 L130 640" stroke-width="2.6"/>
<path d="M110 555 L115 590"/>
</g>
<g class="tile" transform="translate(360,790) scale(0.18518518518518517)">
<path d="M215 65 L245 70 L410 150"/>
<path d="M215 65 L210 180" stroke-dasharray="6 4"/>
<path d="M110 370 L130 380 L210 400 L230 410 L290 420 L360 450 L390 490 L400 530 L430 550 L500 562 L560 580 L640 600 L720 640"/>
<path d="M0 230 L100 300 L120 322 L170 322 L210 302 L260 300 L300 320 L340 340"/>
<path d="M100 360 L200 330 L260 340"/>
<path d="M360 390 Q380 440 440 455 L520 465" stroke-width="2.6"/>
<path d="M580 520 Q600 560 660 575 L760 590" stroke-width="2.6"/>
<path d="M380 310 Q430 280 500 282 Q580 290 640 340" stroke-width="2.2"/>
<path d="M640 410 Q700 400 760 420" stroke-width="2.2"/>
<ellipse cx="455" cy="522" rx="40" ry="24" stroke-width="2.6"/>
<ellipse cx="455" cy="522" rx="20" ry="11"/>
<circle cx="300" cy="262" r="15"/><circle cx="495" cy="245" r="9" fill="#000"/><circle cx="285" cy="362" r="12" fill="#000"/>
<circle cx="215" cy="410" r="6" fill="#000"/><circle cx="720" cy="312" r="6" fill="#000"/><circle cx="565" cy="440" r="6" fill="#000"/>
<circle cx="665" cy="605" r="6" fill="#000"/><circle cx="540" cy="522" r="5" fill="#000"/>
<path d="M280 330 L300 320 L295 345"/>
<path d="M20 40 L30 190 L110 210" stroke-dasharray="6 4"/>
<path d="M60 0 L70 60 L80 90 L100 100 L110 130 L120 160 L130 200 L120 240 L110 280 L120 310"/>
<path d="M90 0 L100 40 L120 70 L130 100 L135 150 L140 200"/>
<path d="M0 380 L40 400 L120 440 L200 470"/>
<path d="M358 256 Q360 240 420 228 Q465 232 466 248 Q455 272 400 280 Q360 280 358 256 Z" stroke-width="1.8"/>
</g>
<g class="tile" transform="translate(370,1070) scale(0.25)"><path d="M400 400 L400 365 L428 365" stroke-width="2"/>

<path d="M266 186 L440 282 L432 372 L268 276 Z" stroke-width="2.6"/>
<path d="M280 205 L426 290 L420 355 L282 268 Z" stroke-width="1.6"/>
<path d="M290 220 L328 242 L326 288 L288 266 Z M344 252 L412 290 L410 338 L342 300 Z" stroke-width="1.8"/>
<circle cx="272" cy="190" r="7" fill="#000"/><circle cx="436" cy="285" r="7" fill="#000"/><circle cx="428" cy="368" r="7" fill="#000"/><circle cx="272" cy="272" r="7" fill="#000"/>

<path d="M0 120 L40 135 L80 150 L120 170 L146 186 L120 192 L80 176 L40 166 L0 160"/>
</g>
<g class="tile" transform="translate(370,1120) scale(0.1388888888888889)">
<path d="M225 125 L260 100 L290 110 L300 135 L500 268 L540 262 L575 280 L585 310 L568 340 L548 370 L545 470 L530 495 L400 532 L250 540 L150 500 L100 440 L110 400 L135 378 L165 368 L172 300 L232 262 L240 200 L228 140 Z"/>
<path d="M232 150 L250 170 L480 300 M248 260 L260 200 L300 185 L320 215 L430 280 L500 290 L530 300"/>
<path d="M170 430 L300 222 M240 440 L380 240 M320 430 L460 282 M180 372 L250 380 L300 390 L340 380 L480 370 L545 352"/>
<path d="M110 440 L160 485 L250 515 L400 505 L530 470 M140 420 L180 440 M260 470 L300 420 M360 460 L420 390"/>
<circle cx="242" cy="145" r="14"/><circle cx="542" cy="310" r="17"/><circle cx="410" cy="455" r="20"/><circle cx="540" cy="470" r="12"/>
<path d="M470 380 L520 350 L545 352"/>
</g>
<g class="tile" transform="translate(380,1040) scale(0.2546473134708429)">
<path d="M10 185 L15 200 L60 210 L100 200 L112 185 L100 170 L60 175 L30 170 L15 175 Z"/>
<path d="M0 130 L20 120 L40 125 L60 110 L80 115 L100 140 L110 170"/>
<path d="M0 20 L40 30 L80 40 L120 20 L150 15 M60 40 L80 60 L70 90"/>
<ellipse cx="35" cy="85" rx="20" ry="20"/><ellipse cx="130" cy="132" rx="20" ry="22"/>
<ellipse cx="212" cy="115" rx="18" ry="18"/><ellipse cx="230" cy="175" rx="20" ry="20"/>
<ellipse cx="320" cy="222" rx="20" ry="20"/><ellipse cx="395" cy="125" rx="18" ry="18"/>
<path d="M100 150 L160 120 L200 95 L240 100 L280 130 M150 150 L200 140 L260 150 L300 180 L340 190 L380 200"/>
<path d="M118 172 L380 292 M118 188 L372 302 M112 200 L370 312"/>
<path d="M230 92 L520 252 M260 110 L380 170"/>
<path d="M338 92 L345 120 L352 92 M345 120 L345 150 M372 95 L375 150 L380 160"/>
<path d="M375 110 L420 105 L440 120 L430 145 L395 150 Z"/>
<path d="M280 200 L300 220 L300 250 M360 210 L375 230 L370 290"/>
<path d="M0 250 L40 260 L80 280 L100 300 L60 300 L20 280 L0 280"/>
<path d="M240 290 L300 260 L360 240"/>
<path d="M380 150 L400 200 L430 222 L480 192 L520 212 M380 222 L440 242 L520 292"/>
<path d="M560 200 L600 180 L640 150 M580 100 L620 90"/>
<path d="M430 0 L440 20 L470 10 L480 0 M560 0 L570 30 L560 60"/>
</g>
<g class="tile" transform="translate(380,970) scale(0.10416666666666667)">
<path d="M120 210 L150 180 L180 185 L210 215 L240 250 L280 255 L310 270 L320 300 L310 330 L340 370 L370 360 L380 335 L410 330 L430 350 L460 395 L490 410 L510 390 L505 350 L530 335 L560 340 L570 380 L580 430 L610 450 L625 475 L605 500 L600 690 L480 720 L400 745 L330 745 L250 700 L170 660 L110 620 L90 560 L100 480 L110 420 L90 370 L100 330 L140 310 L130 260 Z" stroke-width="1.5"/>
<path d="M100 420 L350 560 L360 700 M100 560 L330 690 M140 310 L200 420 L300 460 L360 500"/>
<path d="M360 500 L380 480 L440 480 L450 500 L470 520 M365 510 L360 620 L390 660 L450 670 L500 640 L540 600 L550 560 L540 520 L500 500 L470 520"/>
<path d="M460 560 L470 620 M490 540 Q520 580 500 640" />
<path d="M565 470 L565 700 M590 480 L590 700" stroke-width="1.8"/>
<path d="M200 280 L240 400 M230 300 L290 290 M240 380 L300 370 M250 330 L280 420 M300 320 L290 440"/>
<circle cx="150" cy="210" r="18" fill="#000"/><circle cx="290" cy="285" r="18" fill="#000"/><circle cx="400" cy="360" r="18" fill="#000"/><circle cx="598" cy="470" r="16" fill="#000"/>
<path d="M320 740 L480 710 L600 690" stroke-width="2.6"/>
<circle cx="300" cy="420" r="12" fill="#000"/>
</g>
<g class="tile" transform="translate(400,780) scale(0.20833333333333334)"><g stroke-width="3">
<path d="M88 78 L100 56 L150 44 L210 56 L250 78 L780 398 L770 435 L710 448 L80 100 Z"/>
<path d="M112 74 L150 60 L198 70 L192 100 L130 102 Z"/>
<path d="M186 120 L236 100 L290 130 L252 160 Z"/>
<path d="M262 172 L302 146 L602 312 L562 342 Z"/>
<path d="M576 346 L620 322 L680 356 L640 386 Z"/>
<path d="M652 396 L700 372 L764 408 L720 432 Z"/>
</g>
<path d="M300 150 L430 216" stroke-width="1.4"/>
<circle cx="425" cy="158" r="9" fill="#000"/>
</g>
<g class="tile" transform="translate(416,1000) scale(0.25)">
<path d="M470 100 L520 80 L552 62 L545 38 M520 30 L530 50"/>
<path d="M440 130 L435 200 L438 260 L425 300 L400 340"/>
<path d="M470 120 L460 200 L470 250 L460 300"/>
<path d="M310 180 L340 150 M320 200 L350 170 M300 270 L330 200"/>
</g>
<g class="tile" transform="translate(416,530) scale(0.25)">
<path d="M478 160 L470 175 L466 250 L478 298 L500 312 L820 482 L840 498 L864 505 L900 524"/>
<path d="M478 160 L495 142 L512 134 L545 148 L580 175 L598 188 L604 215 L625 232 L648 232 L700 252 L760 272 L775 300 L864 342"/>
<path d="M498 158 L864 352"/>
<path d="M640 232 L660 225 L690 238"/>
<ellipse cx="545" cy="260" rx="19" ry="28" transform="rotate(-15 545 260)"/>
<ellipse cx="660" cy="330" rx="19" ry="26" transform="rotate(-15 660 330)"/>
<ellipse cx="770" cy="392" rx="19" ry="26" transform="rotate(-15 770 392)"/>
<circle cx="490" cy="188" r="7"/><circle cx="520" cy="190" r="6"/><circle cx="488" cy="266" r="8"/>
<circle cx="605" cy="260" r="8"/><circle cx="715" cy="322" r="8"/><circle cx="607" cy="356" r="8"/>
<circle cx="716" cy="406" r="8"/><circle cx="826" cy="490" r="10"/><circle cx="588" cy="195" r="7"/>


<path d="M688 150 L690 245" stroke-width="2"/>
<path d="M848 130 L850 157 L800 258 M850 157 L944 175" stroke-width="2"/>
<circle cx="800" cy="265" r="8" fill="#000"/>
<path d="M820 240 L864 215 M828 250 L864 232" stroke-width="1.2"/>
<path d="M290 470 L312 576" stroke-width="2"/>
</g>
<g class="tile" transform="translate(480,690) scale(0.18518518518518517)">
<path d="M170 5 L420 140 M440 160 L640 268"/>
<path d="M0 30 L60 55 M120 95 L380 230 M0 120 L120 180"/>
<path d="M500 310 L660 265 L745 335 L760 430"/>
<path d="M500 310 L600 350 L610 450 M600 350 L745 335"/>
<path d="M420 140 L440 160 L500 310"/>
<path d="M650 265 L700 250 L760 240 L790 250 L810 280 L840 300 L850 320 L830 326 L800 300 L780 290 L750 300 L730 300"/>
<ellipse cx="820" cy="308" rx="14" ry="20" transform="rotate(-40 820 308)"/>
<path d="M400 460 L430 455 L520 470 L560 490 L610 480 L760 430 L800 440 L815 470 L810 510 L760 540 L700 560 L660 590 L620 600 L600 620 L560 600 L540 580 L500 590 L470 610 L440 648"/>
<path d="M520 470 L530 500 L600 520 L760 470 L800 470 M600 520 L610 560 L660 560 M640 500 L645 540 M660 495 L665 535"/>
<ellipse cx="460" cy="512" rx="50" ry="28"/>
<path d="M505 500 L560 505 L600 495"/>

<ellipse cx="42" cy="160" rx="30" ry="14"/><path d="M12 160 L12 210 M72 160 L72 210 M12 210 Q42 222 72 210"/>
<ellipse cx="260" cy="272" rx="30" ry="14"/><path d="M230 272 L232 330 M290 272 L290 330 M232 330 Q262 342 290 330"/>
<ellipse cx="462" cy="392" rx="30" ry="14"/><path d="M432 392 L434 450 M492 392 L492 450 M434 450 Q464 462 492 450"/>
<ellipse cx="250" cy="130" rx="25" ry="12"/><ellipse cx="450" cy="240" rx="20" ry="12"/>
<path d="M290 175 L290 330 M60 45 L56 130 M48 48 L68 48 M480 290 L490 450 M250 225 L260 250"/>
<path d="M0 210 L100 262 L330 392 M0 370 L200 490 L440 610 M0 280 L120 340 L300 420 M210 480 L450 600"/>
<path d="M260 340 L300 360 L325 390 L310 400"/>

<path d="M0 470 L10 435 L22 460 L50 450 L60 480 L70 455 L80 490 L40 500 L0 500"/>
<path d="M10 500 L200 590 L440 648"/>

<path d="M85 0 L192 615" stroke-width="2"/>
<path d="M440 30 L362 478" stroke-width="2"/>
<path d="M340 480 L375 472 L385 530 L360 545 L338 535 Z" fill="#000"/>
<path d="M180 612 L212 608 L218 648 L186 648 Z" fill="#000"/>
</g>
<g class="tile" transform="translate(480,840) scale(0.18518518518518517)"><circle cx="420" cy="65" r="12" fill="#000"/>
<path d="M442 150 L610 150 L610 0 M610 75 L705 75" stroke-width="2"/>

<path d="M0 140 Q130 140 200 190 Q230 250 200 290 L140 310"/>
<path d="M0 155 Q120 155 185 195 Q212 245 190 280 L135 300"/>
<path d="M140 350 Q150 420 230 460 L310 470"/>
<path d="M0 250 L120 320 L300 410 M0 300 L100 340 L200 380 M0 330 L60 350"/>
<ellipse cx="55" cy="385" rx="18" ry="26" stroke-width="2"/>
<ellipse cx="240" cy="512" rx="34" ry="20" stroke-width="2"/>
<ellipse cx="540" cy="332" rx="40" ry="26" stroke-width="2"/>
<ellipse cx="725" cy="440" rx="40" ry="24" stroke-width="2"/>
<ellipse cx="440" cy="625" rx="40" ry="20" stroke-width="2"/>
<circle cx="270" cy="228" r="7" fill="#000"/><circle cx="215" cy="275" r="8"/><circle cx="630" cy="350" r="10" fill="#000"/><circle cx="485" cy="460" r="12" fill="#000"/><circle cx="345" cy="600" r="8" fill="#000"/><circle cx="320" cy="520" r="6" fill="#000"/>

<path d="M330 400 L350 380 L390 390 L410 420 L420 470 L400 510 L370 520 L340 490 L320 440 Z"/>
<path d="M370 235 L380 300 L420 330 L430 380 L460 430 L450 480 L420 520 L400 560 M380 300 L360 330 L340 380"/>
<path d="M420 400 L540 405 M430 410 L540 415" stroke-width="2.6"/>
<path d="M540 400 L580 390 L600 420 L580 450 L550 440 Z"/>
<path d="M420 270 L560 170 M440 280 L580 190"/>
<path d="M590 390 L620 380 L700 350 L720 380 L700 400 L640 410"/>
<path d="M320 470 L380 530 L420 560 L500 570 L580 560 L640 520 L650 470 L620 440"/>
<path d="M480 540 L640 480 L700 450 L780 440 L790 470 L750 490 L700 500 L640 520"/>
<path d="M300 560 L400 600 L500 640 M560 580 L600 590 L700 520 L864 470"/>
<path d="M740 510 L864 580" stroke-width="1.6" stroke-dasharray="6 3.5"/>

<path d="M600 250 L620 200 L650 180 L680 186 L700 220 L740 200 L800 150 L830 140 L850 180 L864 250 L850 300 L800 322 L720 352"/>
<path d="M680 186 L690 230 L710 300 L700 340 M760 280 L800 270 L820 300 L800 320 M620 200 L610 260 L630 320"/>
<path d="M640 120 L680 100 M580 160 L640 130"/>
</g>
<g class="tile" transform="translate(480,920) scale(0.25)">
<path d="M100 0 L140 30 L160 80 L300 165 L320 176 L362 160 L580 22 L592 0"/>
<path d="M120 0 L150 20 L175 70 L300 150"/>
<ellipse cx="175" cy="60" rx="25" ry="14" transform="rotate(20 175 60)" stroke-width="2"/>
<ellipse cx="320" cy="146" rx="26" ry="14" transform="rotate(-10 320 146)" stroke-width="2"/>
<ellipse cx="535" cy="10" rx="22" ry="12" stroke-width="2"/>
<path d="M250 0 Q250 60 320 95 Q400 120 470 80 L480 40"/>
<path d="M265 0 Q270 50 330 80 Q400 100 460 70"/>
<path d="M350 10 L370 20 L420 30 L430 10 M280 20 L300 60 L330 70"/>
<circle cx="240" cy="60" r="4" fill="#000"/><circle cx="255" cy="125" r="5" fill="#000"/><circle cx="360" cy="20" r="5" fill="#000"/>

<path d="M440 125 L490 130 L530 160 L540 220 L562 200 L690 295 L685 410 L716 420 L706 576"/>
<path d="M530 160 L300 300 L296 332"/>
<path d="M0 130 L20 142 L60 146 L100 162 L120 190 L150 210 L200 215 L225 240 L240 270 L292 300"/>
<path d="M0 205 L40 182 L80 186 L110 200 L116 216 L96 226 L60 230 L30 220"/>
<path d="M215 250 L235 260 L240 275"/>

<path d="M92 250 L122 420 M110 242 L170 420"/>
<ellipse cx="146" cy="424" rx="22" ry="14"/>
<path d="M60 360 L100 356 M110 340 L150 330"/>
<path d="M540 55 L660 115" stroke-width="1.6" stroke-dasharray="6 3.5"/>
<path d="M190 440 L262 378 L300 400 L296 432 M230 380 L262 370 M180 460 L172 576 M200 470 L196 576 M60 470 L80 450 M40 500 L70 460 M80 490 L100 450"/>
<path d="M260 350 L270 360"/>
</g>
<g class="tile" transform="translate(500,720) scale(0.25)">
<path d="M0 382 L225 522 L398 440 L522 352 L502 322" stroke-width="2.6"/>
<circle cx="232" cy="522" r="9" fill="#000"/>
<circle cx="400" cy="440" r="6" fill="#000"/>
<path d="M490 318 L505 315" stroke-width="2.4"/>

<path d="M232 485 L375 485 L375 576 M440 540 L375 540" stroke-width="2"/>
<path d="M460 455 L480 445 L500 455 L520 460 L528 480 L515 490 M470 470 L500 468"/>

<path d="M620 385 L622 320 L560 268 M622 320 L645 215 M622 325 L600 300 L595 250 M612 290 L606 238" stroke-width="1.8"/>
<circle cx="554" cy="266" r="7" fill="#000"/><circle cx="646" cy="210" r="8" fill="#000"/>
<circle cx="600" cy="240" r="8"/>
<path d="M640 310 L670 312 L660 320 Z"/>
<path d="M655 212 L760 160" stroke-width="1.6" stroke-dasharray="6 3.5"/>

<path d="M505 0 L510 25 L530 45 L545 70 L560 65 L555 40 L600 20 L640 0"/>
</g>
<g class="tile" transform="translate(500,990) scale(0.18518518518518517)">
<path d="M230 460 Q300 300 430 170 Q520 100 600 95 Q700 100 745 155 Q770 200 778 262"/>
<path d="M778 262 L790 300 L790 420 L770 510 L740 560"/>
<path d="M820 20 L832 100 L826 180 L858 200 L850 370 L800 560 L600 672"/>
<path d="M360 650 Q380 520 440 450 Q500 400 545 398 Q575 420 582 480 L590 600 L596 680"/>
<path d="M560 100 L550 330 L522 362"/>
<path d="M720 150 L560 330 M760 262 L590 400 M710 350 L680 410 M590 400 L772 442 M600 470 L720 550 M620 590 L732 545 M590 600 L740 560 M680 200 L760 240"/>
<path d="M430 610 L425 560 L460 510 L500 502 L530 512 L570 500 L580 480 M430 610 L500 612 L560 640 L582 662"/>
<path d="M230 460 L280 465 L310 480 L326 520 L320 560 L280 600 L180 680 L186 760 L220 840"/>
<path d="M70 600 L76 860 M130 540 L70 600 M70 660 L130 680 L130 540 M76 720 L130 740 M80 790 L130 800 M130 680 L130 800"/>
<path d="M130 540 L260 490 L280 465"/>
<path d="M130 220 L150 200 L240 150 L245 120 L200 130 M240 150 L300 130 L300 170 L260 185 L180 222 L160 290 L166 340"/>
<path d="M140 222 L125 300 L135 380 L150 460 L86 520"/>
<path d="M150 380 L210 400 L212 450 L152 440 Z"/>
<path d="M0 510 L70 560 L80 600"/>
<path d="M290 0 L295 70 M240 0 L290 30 L340 0"/>
<path d="M300 700 L330 650 L340 700 L320 864"/>
<path d="M240 90 L270 110 L300 130"/>
</g>
<g class="tile" transform="translate(520,560) scale(0.19677292404565133)">
<path d="M450 230 L490 240 L530 265 L545 280 L560 280 L590 290 L610 320 L640 340 L665 360 L690 370 L720 370 L750 390 L755 420 L740 440 L745 470 L760 510 L770 540 L775 580 L790 600 L800 640 L790 680 L770 670 L760 640 L740 600 L700 580 L670 560 L640 520 L580 500 L540 480 L500 460"/>
<path d="M575 410 L590 400 L640 410 L680 430 L710 470 L740 520 L750 560 L720 560 L680 520 L640 480 L600 460 L575 440 Z"/>
<path d="M520 280 L520 375 L532 380 L540 300 L548 282"/>
<circle cx="665" cy="545" r="12" stroke-width="2"/><circle cx="778" cy="610" r="11"/><circle cx="675" cy="425" r="10"/><circle cx="520" cy="465" r="12" stroke-width="2"/>
<path d="M690 370 L700 400 L720 420 L740 440"/>
</g>
<g class="tile" transform="translate(55,1145) scale(0.08103727714748785)"><path d="M90 520 L300 160 L348 168 L348 258 L712 75" stroke-width="4.2"/>
<path d="M712 75 L770 82 L770 318 L345 545 L342 700 M80 530 L342 692 M348 258 L348 300 M345 355 L750 98 L770 82 M130 540 L80 530" stroke-width="2"/>
<text transform="translate(372 500) rotate(-31) skewX(-16)" font-size="235" style="font-family:'Liberation Sans',sans-serif;fill:#000;stroke:#000;stroke-width:0.6px" textLength="400" lengthAdjust="spacingAndGlyphs">FWD</text>
</g>
<g class="tile" transform="translate(560,1040) scale(0.25)"><path d="M290 350 L340 350 L432 445" stroke-width="2"/>
<path d="M296 468 L440 474" stroke-width="2"/>
<ellipse cx="446" cy="456" rx="11" ry="17" transform="rotate(-25 446 456)" stroke-width="2.4"/>
<ellipse cx="478" cy="468" rx="11" ry="17" transform="rotate(-25 478 468)" stroke-width="2.4"/>
<ellipse cx="515" cy="492" rx="12" ry="17" transform="rotate(-25 515 492)" stroke-width="2.6"/>
<path d="M450 232 L450 285" stroke-width="2"/>
<path d="M600 0 L610 20 L640 30 L670 20 L680 0 M590 0 L600 10"/>
<path d="M300 574 L421 574 L505 505" stroke-width="2"/>
</g>
<g class="tile" transform="translate(585,660) scale(0.11574074074074073)">
<path d="M350 570 L470 420 L620 340 L640 300 L670 310 L665 340 L655 490 L668 520 L640 540 L460 650 L430 675 L400 650 L380 620 L352 600 Z" stroke-width="1.8"/>
<path d="M420 540 L490 450 L610 380 L620 480 L580 520 L450 610 L420 590 Z" stroke-width="1.6"/>
<circle cx="650" cy="318" r="14" stroke-width="2.4"/><circle cx="478" cy="422" r="12" stroke-width="2.2"/><circle cx="648" cy="508" r="14" stroke-width="2.4"/><circle cx="372" cy="575" r="12" stroke-width="2.2"/><circle cx="440" cy="655" r="12" stroke-width="2.2"/>
</g>
<g class="tile" transform="translate(600,1000) scale(0.2777777777777778)">
<path d="M340 350 L400 300 L430 280 L450 250 L470 245 L490 260 L540 300 L552 340 L546 388 L562 396 L556 412 L520 420 L510 460 L480 482 L430 482 L410 470 L340 440 L336 390 Z"/>
<path d="M340 390 L420 425 L520 420 M340 420 L410 450 M410 425 L410 470 M420 425 L440 400 L470 380 L510 380 L520 420"/>
<path d="M400 300 L440 292 L520 322 L542 342 M430 280 L500 310 L522 330 M450 250 L520 300 L530 330"/>
<path d="M345 360 L400 330 L430 350 L420 380 M470 330 L500 350"/>
<circle cx="436" cy="290" r="8"/><circle cx="495" cy="326" r="8"/><circle cx="472" cy="396" r="13"/><circle cx="472" cy="396" r="5" fill="#000"/>
<circle cx="430" cy="432" r="7"/><circle cx="426" cy="465" r="6"/>
<path d="M520 380 L548 370 L560 395"/>

<path d="M580 412 L596 435 L600 480 L596 530 L586 560 L566 578 L518 606 L492 614 L488 590 L482 545 L462 540 L422 568 L392 608 L372 628"/>
<path d="M592 408 L608 432 L612 480 L608 532 L598 566 L574 590 L524 618 L484 630 L478 595 L474 555 L462 552 L430 578 L400 618 L380 636"/>
<ellipse cx="585" cy="408" rx="10" ry="14" transform="rotate(-20 585 408)" stroke-width="2.2"/>
<ellipse cx="578" cy="572" rx="9" ry="13" transform="rotate(-30 578 572)" stroke-width="2.2"/>
<path d="M342 605 L358 590 L380 600 L392 622 L378 645 L358 640 Z" stroke-width="2.6"/>
<circle cx="376" cy="622" r="8"/>
<path d="M488 560 L500 555 L505 580 L525 585 L510 595"/>
</g>
<g class="tile" transform="translate(620,818) scale(0.25)">
<path d="M392 0 L396 40 L360 70 L310 95 L260 130 L222 160 L202 190 L196 230 L192 262"/>
<path d="M370 0 L375 30 L330 60 L290 86 L230 125 L200 155 L185 190 L180 240"/>
<ellipse cx="300" cy="100" rx="16" ry="22" transform="rotate(-55 300 100)"/>
<path d="M200 185 L230 192"/>
<path d="M150 245 L165 230 L190 245 L210 280 L205 300 L180 296 L155 270 Z"/>
<circle cx="178" cy="266" r="8"/><circle cx="198" cy="292" r="5" fill="#000"/>
<path d="M350 10 L370 20 L395 10"/>

<path d="M114 265 L130 254 L150 270 L166 300 L160 320 L140 316 L120 292 Z" stroke-width="2"/>
<circle cx="138" cy="288" r="7"/><circle cx="158" cy="318" r="5" fill="#000"/>
<path d="M160 318 L210 330 L282 330" stroke-width="2"/>
<path d="M380 405 L265 405 L205 460" stroke-width="2"/>
<path d="M0 475 L105 530" stroke-width="1.6" stroke-dasharray="6 3.5"/>
<path d="M540 555 L580 576" stroke-width="2"/>

<path d="M0 300 L30 290 L45 320 L70 310 L76 270 L70 230 L60 200"/>
<path d="M0 70 L30 60 L50 70 L40 90 L20 100 M10 400 L20 410 L15 430"/>
</g>
<g class="tile" transform="translate(620,880) scale(0.23148148148148145)">
<path d="M130 210 L150 195 L170 195 L200 185 L215 165 L225 185 L230 235 L215 250 L195 265 L165 270 L145 285 L130 310 L120 325 L130 290 L140 260 L130 230 Z" stroke-width="1.8"/>
<ellipse cx="178" cy="230" rx="28" ry="22"/>
<circle cx="215" cy="170" r="5" fill="#000"/><circle cx="222" cy="240" r="6"/><circle cx="140" cy="212" r="6"/><circle cx="122" cy="322" r="5" fill="#000"/>

<path d="M245 285 L270 270 L300 265 L330 240 L350 235 L360 255 L400 270 L420 290 L430 260 L460 255 L490 290 L510 340 L500 350 L480 380 L470 400 L475 420 L430 420 L400 400 L360 410 L340 440 L310 445 L280 430 L265 410 L250 400 L240 380 L245 330 Z"/>
<ellipse cx="300" cy="415" rx="20" ry="30" transform="rotate(20 300 415)"/>
<path d="M300 385 L360 380 L380 400 M270 300 L330 310 L370 330 M250 285 L256 385 M420 290 L440 330 L470 360 L500 350"/>
<ellipse cx="355" cy="305" rx="20" ry="15"/><ellipse cx="420" cy="322" rx="18" ry="15"/>
<path d="M430 400 L470 400 L472 420 M440 400 L440 420"/>
<circle cx="250" cy="392" r="8"/><circle cx="345" cy="245" r="7"/>
<path d="M330 330 L350 350 L340 370 M390 340 L410 360"/>

<ellipse cx="645" cy="75" rx="40" ry="18"/>
<ellipse cx="645" cy="72" rx="14" ry="7"/>
<path d="M605 80 L600 130 M685 78 L705 95 L702 135"/>
<path d="M585 128 Q650 150 720 126 L718 140 Q650 162 588 142 Z" stroke-width="2.4"/>
<path d="M588 142 L572 210 L576 260 L600 286 L640 296 L680 282 L710 250 L715 220 L736 190 L722 180 L706 150"/>
<path d="M590 170 L650 175 L700 160 M620 175 L625 220 M660 180 L680 200 L700 190"/>
<ellipse cx="610" cy="245" rx="18" ry="25"/><ellipse cx="650" cy="215" rx="15" ry="20"/>
<circle cx="600" cy="232" r="6"/><circle cx="606" cy="262" r="6"/>
<path d="M670 240 L690 230 L700 250"/>

<path d="M510 240 L525 230 L555 260 L580 300 L575 330 L545 325 L520 290 L505 260 Z" stroke-width="2.2"/>
<circle cx="522" cy="252" r="6"/><circle cx="538" cy="280" r="6"/><circle cx="555" cy="308" r="6"/>
</g>
<g class="tile" transform="translate(620,940) scale(0.25)"><path d="M665 92 L600 92 L532 52" stroke-width="2"/>
<path d="M460 238 L520 238 L570 192" stroke-width="2"/>
<ellipse cx="568" cy="165" rx="17" ry="26" transform="rotate(-40 568 165)" stroke-width="2.2"/>
<ellipse cx="568" cy="165" rx="6" ry="10" transform="rotate(-40 568 165)"/>

<path d="M622 180 L650 192 L668 230 L642 272 L600 302 L520 332 L462 356 L440 382 L420 422 L400 442 L372 424"/>
<path d="M612 192 L640 205 L650 232 L628 262 L592 288 L515 318 L452 345 L428 372 L410 410 L398 425 L378 410"/>
<ellipse cx="626" cy="190" rx="10" ry="16" transform="rotate(-40 626 190)" stroke-width="2"/>
<path d="M336 402 L350 390 L380 400 L384 422 L370 432 L346 420 Z" stroke-width="2.4"/>
<path d="M420 90 L560 150" stroke-width="1.6" stroke-dasharray="6 3.5"/>

<path d="M0 120 L40 130 L80 160 L130 210 L126 290 L132 330 L156 346 L150 450 L142 576"/>
<path d="M0 270 L40 280 L80 310 L95 360 L100 420 L95 500"/>
<path d="M0 330 L50 300 M0 400 L80 380 M10 470 L40 440 M0 520 L60 500"/>

<path d="M100 60 L120 20 L130 0 M140 0 L150 20" stroke-width="1.6"/>
<path d="M0 0 L100 40" stroke-width="1.6" stroke-dasharray="6 3.5"/>
<path d="M560 0 Q600 30 630 10"/>
</g>
<g class="tile" transform="translate(632,530) scale(0.25)"><path d="M555 165 L495 165 L412 92 M495 165 L412 250" stroke-width="2"/>
<circle cx="410" cy="90" r="8" fill="#000"/><circle cx="410" cy="250" r="6" fill="#000"/>
<path d="M412 100 L412 576" stroke-width="1.8" stroke-dasharray="6 3.5"/>

<path d="M0 215 L40 205 L100 203 L150 212 L175 228 M0 228 L40 215 L100 213 L145 222"/>
<path d="M150 195 L160 200 L170 225 L200 232 L225 245 L232 260 L215 268 L200 262 L180 250 L160 230 Z"/>
<path d="M232 262 L280 272 L340 275 L352 268 L358 252 M232 270 L280 280 L345 282 L362 270"/>
<path d="M350 240 L345 215 L355 185 L375 160 L395 152 L420 160 L420 180 L405 210 L395 240 L375 248 Z"/>
<path d="M395 152 L400 170 L420 180"/>
<path d="M68 188 L90 190 L85 178"/>

<path d="M256 410 L258 520" stroke-width="2"/>
<circle cx="258" cy="520" r="5" fill="#000"/>

<path d="M172 545 L195 530 L255 510 L290 525 L350 560 L342 585 L290 620 L265 612 L190 575 Z"/>
<ellipse cx="262" cy="563" rx="40" ry="20" transform="rotate(-5 262 563)"/>
<ellipse cx="260" cy="570" rx="32" ry="13" transform="rotate(-5 260 570)"/>
<circle cx="190" cy="545" r="6"/><circle cx="340" cy="567" r="6"/><circle cx="285" cy="612" r="6" fill="#000"/>
</g>
<g class="tile" transform="translate(632,674) scale(0.25)"><path d="M412 0 L412 185" stroke-width="1.8" stroke-dasharray="6 3.5"/>
<circle cx="120" cy="395" r="7" fill="#000"/>

<path d="M515 0 L515 45 L470 160 M515 45 L598 100" stroke-width="2"/>
<path d="M520 130 L525 100 L545 92 L555 110 L560 140 L575 170 L585 200 L575 205 L560 178 L545 150 L530 145 Z"/>
<path d="M570 100 L598 95 L600 108 M555 125 L570 130 L565 150"/>
<circle cx="480" cy="160" r="6" fill="#000"/>

<path d="M470 495 L370 495" stroke-width="2"/>
<path d="M300 520 L320 500 L355 490 L378 495 L370 510 L345 525 L310 532 Z"/>
<ellipse cx="338" cy="512" rx="14" ry="8" transform="rotate(-20 338 512)"/>
<path d="M310 576 L330 555 L360 545 L378 552 L372 568 L360 576"/>
<ellipse cx="348" cy="565" rx="12" ry="6" transform="rotate(-20 348 565)"/>

<path d="M118 400 L100 480 L95 576" stroke-width="2"/>
<path d="M28 455 L60 490 L80 510 L95 530 M70 420 L75 500 M80 420 L80 500 L90 505"/>
<circle cx="25" cy="452" r="7" fill="#000"/>
<circle cx="75" cy="420" r="8"/>
<path d="M115 490 L140 495 L150 500 L125 505 Z"/>
</g>
<g class="tile" transform="translate(640,690) scale(0.16204829039053636)">
<path d="M215 100 L345 48 L492 120 L490 160 L450 178 M215 100 L220 135 L275 188 M490 160 L470 195"/>
<circle cx="350" cy="62" r="7"/><circle cx="470" cy="130" r="7"/><circle cx="240" cy="108" r="7"/>
<ellipse cx="380" cy="135" rx="85" ry="30" transform="rotate(8 380 135)"/>
<ellipse cx="385" cy="142" rx="70" ry="22" transform="rotate(8 385 142)"/>
<path d="M330 150 L330 400 L320 440 M455 150 L460 260 L450 400 L445 470"/>
<path d="M330 255 Q390 290 458 262"/>
<path d="M215 172 L180 180 L150 200 L110 280 L100 320 L130 370 L160 400 L182 452"/>
<path d="M150 215 L170 195 L200 190 L230 205 M120 310 L140 270 L160 240 L190 230 L220 235"/>
<path d="M240 280 Q235 400 300 500 Q350 585 430 610 L520 592 L545 570"/>
<path d="M300 500 L320 560 L380 600"/>
<ellipse cx="625" cy="345" rx="75" ry="68"/>
<ellipse cx="632" cy="350" rx="55" ry="50"/>
<circle cx="660" cy="375" r="28"/><circle cx="672" cy="375" r="14"/>
<ellipse cx="540" cy="490" rx="70" ry="62"/>
<ellipse cx="545" cy="495" rx="48" ry="44"/>
<path d="M455 290 L500 290 L540 300 L560 290 M450 400 L500 390 L540 400 M460 470 L470 540 L520 560 L590 540 L660 500 L690 430"/>
<path d="M480 260 L520 270 L560 280 M470 265 L500 255"/>
<path d="M500 240 L700 150" stroke-width="1.8" stroke-dasharray="8 5"/>
<path d="M310 410 L140 510" stroke-width="1.8" stroke-dasharray="8 5"/>
<circle cx="135" cy="510" r="8" fill="#000"/><circle cx="690" cy="150" r="7" fill="#000"/>
</g>
<g class="tile" transform="translate(650,1050) scale(0.06944444444444445)"><path d="M312 175 L250 290 L180 350 L130 420 L150 490 L195 500 L200 600 L150 650 L130 720 L170 760 L230 740 L300 650 L360 680 L430 690 L470 620 L540 540 L600 510 L660 440 L640 380 L590 360 L580 280 L570 200 L540 160 L460 150 L410 150 L395 105 L340 110 Z" stroke-width="2"/>
<path d="M290 320 L380 230 L480 210 L530 250 L545 330 L530 450 L470 530 L400 570 L320 580 L270 540 L255 440 L270 370 Z" stroke-width="2"/>
<circle cx="362" cy="158" r="20" stroke-width="2"/><circle cx="168" cy="430" r="20" stroke-width="2"/>
<circle cx="175" cy="700" r="20" stroke-width="2"/><circle cx="620" cy="448" r="20" stroke-width="2"/><circle cx="420" cy="612" r="20" stroke-width="2"/>
</g>
</g>
<g fill="#fff" stroke="#000" stroke-width="1.7">
<circle cx="487" cy="634.4" r="13.2"/>
<text class="cn" transform="translate(487.0,641.7) scale(0.78,1)" text-anchor="middle" font-size="21">2</text>
<circle cx="561" cy="684.8" r="13.2"/>
<text class="cn" transform="translate(561.0,692.1) scale(0.78,1)" text-anchor="middle" font-size="21">1</text>
<circle cx="588.3" cy="554.6" r="13.2"/>
<text class="cn" transform="translate(588.3,561.9) scale(0.78,1)" text-anchor="middle" font-size="21">10</text>
<circle cx="628" cy="549" r="13.2"/>
<text class="cn" transform="translate(628.0,556.3) scale(0.78,1)" text-anchor="middle" font-size="21">28</text>
<circle cx="784.4" cy="571.5" r="13.2"/>
<text class="cn" transform="translate(784.4,578.8) scale(0.78,1)" text-anchor="middle" font-size="21">28</text>
<circle cx="695.6" cy="622.6" r="13.2"/>
<text class="cn" transform="translate(695.6,629.9) scale(0.78,1)" text-anchor="middle" font-size="21">27</text>
<circle cx="602" cy="681" r="13.2"/>
<text class="cn" transform="translate(602.0,688.3) scale(0.78,1)" text-anchor="middle" font-size="21">26</text>
<circle cx="760.4" cy="655.2" r="13.2"/>
<text class="cn" transform="translate(760.4,662.5) scale(0.78,1)" text-anchor="middle" font-size="21">29</text>
<circle cx="655" cy="831.2" r="13.2"/>
<text class="cn" transform="translate(655.0,838.5) scale(0.78,1)" text-anchor="middle" font-size="21">29</text>
<circle cx="235.4" cy="720" r="13.2"/>
<text class="cn" transform="translate(235.4,727.3) scale(0.78,1)" text-anchor="middle" font-size="21">25</text>
<circle cx="264.5" cy="733" r="13.2"/>
<text class="cn" transform="translate(264.5,740.3) scale(0.78,1)" text-anchor="middle" font-size="21">24</text>
<circle cx="343.4" cy="758.9" r="13.2"/>
<text class="cn" transform="translate(343.4,766.2) scale(0.78,1)" text-anchor="middle" font-size="21">22</text>
<circle cx="314.6" cy="825" r="13.2"/>
<text class="cn" transform="translate(314.6,832.3) scale(0.78,1)" text-anchor="middle" font-size="21">6</text>
<circle cx="285.2" cy="849.7" r="13.2"/>
<text class="cn" transform="translate(285.2,857.0) scale(0.78,1)" text-anchor="middle" font-size="21">8</text>
<circle cx="623.6" cy="854.9" r="13.2"/>
<text class="cn" transform="translate(623.6,862.2) scale(0.78,1)" text-anchor="middle" font-size="21">5</text>
<circle cx="242.3" cy="810.8" r="13.2"/>
<text class="cn" transform="translate(242.3,818.1) scale(0.78,1)" text-anchor="middle" font-size="21">9</text>
<circle cx="273.8" cy="810.8" r="13.2"/>
<text class="cn" transform="translate(273.8,818.1) scale(0.78,1)" text-anchor="middle" font-size="21">23</text>
<circle cx="763.6" cy="797.2" r="13.2"/>
<text class="cn" transform="translate(763.6,804.5) scale(0.78,1)" text-anchor="middle" font-size="21">13</text>
<circle cx="721.1" cy="998.4" r="13.2"/>
<text class="cn" transform="translate(721.1,1005.7) scale(0.78,1)" text-anchor="middle" font-size="21">13</text>
<circle cx="702.5" cy="901.3" r="13.2"/>
<text class="cn" transform="translate(702.5,908.6) scale(0.78,1)" text-anchor="middle" font-size="21">12</text>
<circle cx="727.2" cy="919.9" r="13.2"/>
<text class="cn" transform="translate(727.2,927.2) scale(0.78,1)" text-anchor="middle" font-size="21">17</text>
<circle cx="799.6" cy="962.5" r="13.2"/>
<text class="cn" transform="translate(799.6,969.8) scale(0.78,1)" text-anchor="middle" font-size="21">18</text>
<circle cx="242.1" cy="917.3" r="13.2"/>
<text class="cn" transform="translate(242.1,924.6) scale(0.78,1)" text-anchor="middle" font-size="21">7</text>
<circle cx="320.5" cy="961" r="13.2"/>
<text class="cn" transform="translate(320.5,968.3) scale(0.78,1)" text-anchor="middle" font-size="21">15</text>
<circle cx="283.6" cy="991.8" r="13.2"/>
<text class="cn" transform="translate(283.6,999.1) scale(0.78,1)" text-anchor="middle" font-size="21">16</text>
<circle cx="467.3" cy="1043.6" r="13.2"/>
<text class="cn" transform="translate(467.3,1050.9) scale(0.78,1)" text-anchor="middle" font-size="21">4</text>
<circle cx="671.3" cy="1123.3" r="13.2"/>
<text class="cn" transform="translate(671.3,1130.6) scale(0.78,1)" text-anchor="middle" font-size="21">3</text>
<circle cx="618.6" cy="1128.6" r="13.2"/>
<text class="cn" transform="translate(618.6,1135.9) scale(0.78,1)" text-anchor="middle" font-size="21">21</text>
<circle cx="620.8" cy="1157.2" r="13.2"/>
<text class="cn" transform="translate(620.8,1164.5) scale(0.78,1)" text-anchor="middle" font-size="21">20</text>
<circle cx="621.3" cy="1185" r="13.2"/>
<text class="cn" transform="translate(621.3,1192.3) scale(0.78,1)" text-anchor="middle" font-size="21">19</text>
<circle cx="469.1" cy="1181.4" r="13.2"/>
<text class="cn" transform="translate(469.1,1188.7) scale(0.78,1)" text-anchor="middle" font-size="21">14</text>
<circle cx="348.8" cy="1134.8" r="13.2"/>
<text class="cn" transform="translate(348.8,1142.1) scale(0.78,1)" text-anchor="middle" font-size="21">11</text>
</g>
<text x="201" y="1069.8" font-size="15.9" style="fill:#7f7f7f">WWW.ILCATS.RU</text>
<text x="201" y="1085.6" font-size="15.9" style="fill:#7f7f7f">07:50 07.04.2026</text>
</svg>
</body></html>
